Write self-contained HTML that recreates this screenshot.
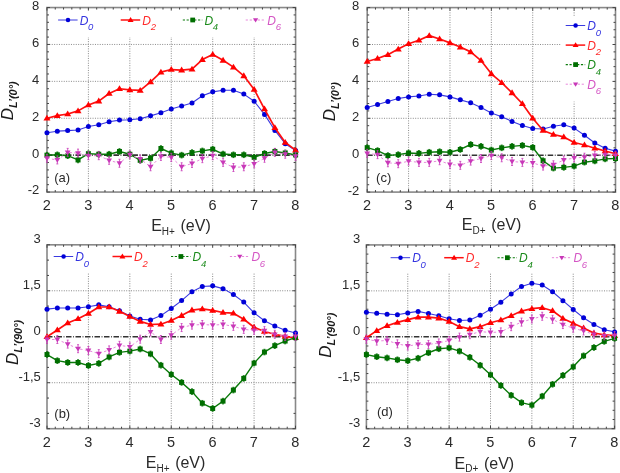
<!DOCTYPE html>
<html><head><meta charset="utf-8"><style>
html,body{margin:0;padding:0;background:#fff;}
body{width:620px;height:473px;overflow:hidden;}
svg{display:block;filter:blur(0.3px);}
text{font-family:"Liberation Sans", sans-serif;}
.tl{font-size:13px;fill:#2a2a2a;}
.tx{font-size:14.5px;fill:#2a2a2a;}
.lg{font-size:12px;font-style:italic;}
.ls{font-size:9.5px;}
.pl{font-size:13px;fill:#2a2a2a;}
.al{font-size:16px;fill:#2a2a2a;}
.as{font-size:10px;}
.yl{font-size:17px;font-style:italic;fill:#1a1a1a;}
.ys{font-size:11px;font-weight:bold;}
</style></head><body>
<svg width="620" height="473" viewBox="0 0 620 473">
<rect width="620" height="473" fill="#fff"/>
<line x1="88.4" y1="7.55" x2="88.4" y2="192.05" stroke="#8a8a8a" stroke-width="1" stroke-dasharray="1 1.4"/>
<line x1="129.84" y1="7.55" x2="129.84" y2="192.05" stroke="#8a8a8a" stroke-width="1" stroke-dasharray="1 1.4"/>
<line x1="171.28" y1="7.55" x2="171.28" y2="192.05" stroke="#8a8a8a" stroke-width="1" stroke-dasharray="1 1.4"/>
<line x1="212.72" y1="7.55" x2="212.72" y2="192.05" stroke="#8a8a8a" stroke-width="1" stroke-dasharray="1 1.4"/>
<line x1="254.16" y1="7.55" x2="254.16" y2="192.05" stroke="#8a8a8a" stroke-width="1" stroke-dasharray="1 1.4"/>
<line x1="46.96" y1="118.25" x2="295.6" y2="118.25" stroke="#8a8a8a" stroke-width="1" stroke-dasharray="1 1.4"/>
<line x1="46.96" y1="81.35" x2="295.6" y2="81.35" stroke="#8a8a8a" stroke-width="1" stroke-dasharray="1 1.4"/>
<line x1="46.96" y1="44.45" x2="295.6" y2="44.45" stroke="#8a8a8a" stroke-width="1" stroke-dasharray="1 1.4"/>
<rect x="48" y="9.5" width="246.5" height="27.5" fill="#fff"/>
<line x1="46.96" y1="155.15" x2="295.6" y2="155.15" stroke="#333" stroke-width="1.6" stroke-dasharray="5.5 1.6 0.8 1.6"/>
<rect x="46.96" y="7.55" width="248.64" height="184.5" fill="none" stroke="#888" stroke-width="1.6"/>
<path d="M46.96 192.05v-3 M46.96 7.55v3 M55.25 192.05v-2 M55.25 7.55v2 M63.54 192.05v-2 M63.54 7.55v2 M71.82 192.05v-2 M71.82 7.55v2 M80.11 192.05v-2 M80.11 7.55v2 M88.4 192.05v-3 M88.4 7.55v3 M96.69 192.05v-2 M96.69 7.55v2 M104.98 192.05v-2 M104.98 7.55v2 M113.26 192.05v-2 M113.26 7.55v2 M121.55 192.05v-2 M121.55 7.55v2 M129.84 192.05v-3 M129.84 7.55v3 M138.13 192.05v-2 M138.13 7.55v2 M146.42 192.05v-2 M146.42 7.55v2 M154.7 192.05v-2 M154.7 7.55v2 M162.99 192.05v-2 M162.99 7.55v2 M171.28 192.05v-3 M171.28 7.55v3 M179.57 192.05v-2 M179.57 7.55v2 M187.86 192.05v-2 M187.86 7.55v2 M196.14 192.05v-2 M196.14 7.55v2 M204.43 192.05v-2 M204.43 7.55v2 M212.72 192.05v-3 M212.72 7.55v3 M221.01 192.05v-2 M221.01 7.55v2 M229.3 192.05v-2 M229.3 7.55v2 M237.58 192.05v-2 M237.58 7.55v2 M245.87 192.05v-2 M245.87 7.55v2 M254.16 192.05v-3 M254.16 7.55v3 M262.45 192.05v-2 M262.45 7.55v2 M270.74 192.05v-2 M270.74 7.55v2 M279.02 192.05v-2 M279.02 7.55v2 M287.31 192.05v-2 M287.31 7.55v2 M295.6 192.05v-3 M295.6 7.55v3 M46.96 192.05h3 M295.6 192.05h-3 M46.96 184.67h2 M295.6 184.67h-2 M46.96 177.29h2 M295.6 177.29h-2 M46.96 169.91h2 M295.6 169.91h-2 M46.96 162.53h2 M295.6 162.53h-2 M46.96 155.15h3 M295.6 155.15h-3 M46.96 147.77h2 M295.6 147.77h-2 M46.96 140.39h2 M295.6 140.39h-2 M46.96 133.01h2 M295.6 133.01h-2 M46.96 125.63h2 M295.6 125.63h-2 M46.96 118.25h3 M295.6 118.25h-3 M46.96 110.87h2 M295.6 110.87h-2 M46.96 103.49h2 M295.6 103.49h-2 M46.96 96.11h2 M295.6 96.11h-2 M46.96 88.73h2 M295.6 88.73h-2 M46.96 81.35h3 M295.6 81.35h-3 M46.96 73.97h2 M295.6 73.97h-2 M46.96 66.59h2 M295.6 66.59h-2 M46.96 59.21h2 M295.6 59.21h-2 M46.96 51.83h2 M295.6 51.83h-2 M46.96 44.45h3 M295.6 44.45h-3 M46.96 37.07h2 M295.6 37.07h-2 M46.96 29.69h2 M295.6 29.69h-2 M46.96 22.31h2 M295.6 22.31h-2 M46.96 14.93h2 M295.6 14.93h-2 M46.96 7.55h3 M295.6 7.55h-3" stroke="#444" stroke-width="1" fill="none"/>
<path d="M46.96 132.83 L57.32 131.17 L67.68 130.61 L78.04 130.06 L88.4 126.55 L98.76 124.71 L109.12 121.76 L119.48 120.09 L129.84 119.73 L140.2 118.8 L150.56 115.85 L160.92 112.72 L171.28 109.03 L181.64 106.07 L192 102.94 L202.36 95.74 L212.72 91.87 L223.08 90.21 L233.44 90.21 L243.8 94.08 L254.16 101.28 L264.52 114.38 L274.88 130.43 L285.24 143.71 L295.6 150.54" fill="none" stroke="#3a3ae0" stroke-width="1.1" stroke-linejoin="round"/>
<circle cx="46.96" cy="132.83" r="2.5" fill="#0000d8"/>
<circle cx="57.32" cy="131.17" r="2.5" fill="#0000d8"/>
<circle cx="67.68" cy="130.61" r="2.5" fill="#0000d8"/>
<circle cx="78.04" cy="130.06" r="2.5" fill="#0000d8"/>
<circle cx="88.4" cy="126.55" r="2.5" fill="#0000d8"/>
<circle cx="98.76" cy="124.71" r="2.5" fill="#0000d8"/>
<circle cx="109.12" cy="121.76" r="2.5" fill="#0000d8"/>
<circle cx="119.48" cy="120.09" r="2.5" fill="#0000d8"/>
<circle cx="129.84" cy="119.73" r="2.5" fill="#0000d8"/>
<circle cx="140.2" cy="118.8" r="2.5" fill="#0000d8"/>
<circle cx="150.56" cy="115.85" r="2.5" fill="#0000d8"/>
<circle cx="160.92" cy="112.72" r="2.5" fill="#0000d8"/>
<circle cx="171.28" cy="109.03" r="2.5" fill="#0000d8"/>
<circle cx="181.64" cy="106.07" r="2.5" fill="#0000d8"/>
<circle cx="192" cy="102.94" r="2.5" fill="#0000d8"/>
<circle cx="202.36" cy="95.74" r="2.5" fill="#0000d8"/>
<circle cx="212.72" cy="91.87" r="2.5" fill="#0000d8"/>
<circle cx="223.08" cy="90.21" r="2.5" fill="#0000d8"/>
<circle cx="233.44" cy="90.21" r="2.5" fill="#0000d8"/>
<circle cx="243.8" cy="94.08" r="2.5" fill="#0000d8"/>
<circle cx="254.16" cy="101.28" r="2.5" fill="#0000d8"/>
<circle cx="264.52" cy="114.38" r="2.5" fill="#0000d8"/>
<circle cx="274.88" cy="130.43" r="2.5" fill="#0000d8"/>
<circle cx="285.24" cy="143.71" r="2.5" fill="#0000d8"/>
<circle cx="295.6" cy="150.54" r="2.5" fill="#0000d8"/>
<path d="M46.96 118.25 L57.32 115.67 L67.68 114.01 L78.04 110.87 L88.4 104.97 L98.76 101.09 L109.12 93.53 L119.48 88.73 L129.84 89.84 L140.2 90.39 L150.56 81.9 L160.92 72.13 L171.28 69.54 L181.64 70.1 L192 69.17 L202.36 59.58 L212.72 54.41 L223.08 60.32 L233.44 67.14 L243.8 75.82 L254.16 89.47 L264.52 109.03 L274.88 127.66 L285.24 142.42 L295.6 150.17" fill="none" stroke="#ff1010" stroke-width="1.7" stroke-linejoin="round"/>
<path d="M46.96 114.77L50.46 120.57L43.46 120.57Z" fill="#ff0000"/>
<path d="M57.32 112.19L60.82 117.99L53.82 117.99Z" fill="#ff0000"/>
<path d="M67.68 110.53L71.18 116.33L64.18 116.33Z" fill="#ff0000"/>
<path d="M78.04 107.39L81.54 113.19L74.54 113.19Z" fill="#ff0000"/>
<path d="M88.4 101.49L91.9 107.29L84.9 107.29Z" fill="#ff0000"/>
<path d="M98.76 97.61L102.26 103.41L95.26 103.41Z" fill="#ff0000"/>
<path d="M109.12 90.05L112.62 95.85L105.62 95.85Z" fill="#ff0000"/>
<path d="M119.48 85.25L122.98 91.05L115.98 91.05Z" fill="#ff0000"/>
<path d="M129.84 86.36L133.34 92.16L126.34 92.16Z" fill="#ff0000"/>
<path d="M140.2 86.91L143.7 92.71L136.7 92.71Z" fill="#ff0000"/>
<path d="M150.56 78.42L154.06 84.22L147.06 84.22Z" fill="#ff0000"/>
<path d="M160.92 68.65L164.42 74.45L157.42 74.45Z" fill="#ff0000"/>
<path d="M171.28 66.06L174.78 71.86L167.78 71.86Z" fill="#ff0000"/>
<path d="M181.64 66.62L185.14 72.42L178.14 72.42Z" fill="#ff0000"/>
<path d="M192 65.69L195.5 71.49L188.5 71.49Z" fill="#ff0000"/>
<path d="M202.36 56.1L205.86 61.9L198.86 61.9Z" fill="#ff0000"/>
<path d="M212.72 50.93L216.22 56.73L209.22 56.73Z" fill="#ff0000"/>
<path d="M223.08 56.84L226.58 62.64L219.58 62.64Z" fill="#ff0000"/>
<path d="M233.44 63.66L236.94 69.46L229.94 69.46Z" fill="#ff0000"/>
<path d="M243.8 72.34L247.3 78.14L240.3 78.14Z" fill="#ff0000"/>
<path d="M254.16 85.99L257.66 91.79L250.66 91.79Z" fill="#ff0000"/>
<path d="M264.52 105.55L268.02 111.34L261.02 111.34Z" fill="#ff0000"/>
<path d="M274.88 124.18L278.38 129.98L271.38 129.98Z" fill="#ff0000"/>
<path d="M285.24 138.94L288.74 144.74L281.74 144.74Z" fill="#ff0000"/>
<path d="M295.6 146.69L299.1 152.49L292.1 152.49Z" fill="#ff0000"/>
<path d="M46.96 155.15 L57.32 154.78 L67.68 155.7 L78.04 159.95 L88.4 153.67 L98.76 154.23 L109.12 154.23 L119.48 151.46 L129.84 154.23 L140.2 160.32 L150.56 158.29 L160.92 148.51 L171.28 153.12 L181.64 155.15 L192 152.57 L202.36 150.91 L212.72 149.25 L223.08 154.04 L233.44 154.78 L243.8 154.78 L254.16 157.36 L264.52 153.49 L274.88 151.46 L285.24 152.94 L295.6 154.97" fill="none" stroke="#0a7a0a" stroke-width="1.4" stroke-linejoin="round"/>
<path d="M46.96 152.35V157.95M45.96 152.35h2M45.96 157.95h2" stroke="#006e00" stroke-width="0.8" fill="none"/>
<rect x="44.46" y="152.65" width="5" height="5" fill="#006e00"/>
<path d="M57.32 151.98V157.58M56.32 151.98h2M56.32 157.58h2" stroke="#006e00" stroke-width="0.8" fill="none"/>
<rect x="54.82" y="152.28" width="5" height="5" fill="#006e00"/>
<path d="M67.68 152.9V158.5M66.68 152.9h2M66.68 158.5h2" stroke="#006e00" stroke-width="0.8" fill="none"/>
<rect x="65.18" y="153.2" width="5" height="5" fill="#006e00"/>
<path d="M78.04 157.15V162.75M77.04 157.15h2M77.04 162.75h2" stroke="#006e00" stroke-width="0.8" fill="none"/>
<rect x="75.54" y="157.45" width="5" height="5" fill="#006e00"/>
<path d="M88.4 150.87V156.47M87.4 150.87h2M87.4 156.47h2" stroke="#006e00" stroke-width="0.8" fill="none"/>
<rect x="85.9" y="151.17" width="5" height="5" fill="#006e00"/>
<path d="M98.76 151.43V157.03M97.76 151.43h2M97.76 157.03h2" stroke="#006e00" stroke-width="0.8" fill="none"/>
<rect x="96.26" y="151.73" width="5" height="5" fill="#006e00"/>
<path d="M109.12 151.43V157.03M108.12 151.43h2M108.12 157.03h2" stroke="#006e00" stroke-width="0.8" fill="none"/>
<rect x="106.62" y="151.73" width="5" height="5" fill="#006e00"/>
<path d="M119.48 148.66V154.26M118.48 148.66h2M118.48 154.26h2" stroke="#006e00" stroke-width="0.8" fill="none"/>
<rect x="116.98" y="148.96" width="5" height="5" fill="#006e00"/>
<path d="M129.84 151.43V157.03M128.84 151.43h2M128.84 157.03h2" stroke="#006e00" stroke-width="0.8" fill="none"/>
<rect x="127.34" y="151.73" width="5" height="5" fill="#006e00"/>
<path d="M140.2 157.52V163.12M139.2 157.52h2M139.2 163.12h2" stroke="#006e00" stroke-width="0.8" fill="none"/>
<rect x="137.7" y="157.82" width="5" height="5" fill="#006e00"/>
<path d="M150.56 155.49V161.09M149.56 155.49h2M149.56 161.09h2" stroke="#006e00" stroke-width="0.8" fill="none"/>
<rect x="148.06" y="155.79" width="5" height="5" fill="#006e00"/>
<path d="M160.92 145.71V151.31M159.92 145.71h2M159.92 151.31h2" stroke="#006e00" stroke-width="0.8" fill="none"/>
<rect x="158.42" y="146.01" width="5" height="5" fill="#006e00"/>
<path d="M171.28 150.32V155.92M170.28 150.32h2M170.28 155.92h2" stroke="#006e00" stroke-width="0.8" fill="none"/>
<rect x="168.78" y="150.62" width="5" height="5" fill="#006e00"/>
<path d="M181.64 152.35V157.95M180.64 152.35h2M180.64 157.95h2" stroke="#006e00" stroke-width="0.8" fill="none"/>
<rect x="179.14" y="152.65" width="5" height="5" fill="#006e00"/>
<path d="M192 149.77V155.37M191 149.77h2M191 155.37h2" stroke="#006e00" stroke-width="0.8" fill="none"/>
<rect x="189.5" y="150.07" width="5" height="5" fill="#006e00"/>
<path d="M202.36 148.11V153.71M201.36 148.11h2M201.36 153.71h2" stroke="#006e00" stroke-width="0.8" fill="none"/>
<rect x="199.86" y="148.41" width="5" height="5" fill="#006e00"/>
<path d="M212.72 146.45V152.05M211.72 146.45h2M211.72 152.05h2" stroke="#006e00" stroke-width="0.8" fill="none"/>
<rect x="210.22" y="146.75" width="5" height="5" fill="#006e00"/>
<path d="M223.08 151.24V156.84M222.08 151.24h2M222.08 156.84h2" stroke="#006e00" stroke-width="0.8" fill="none"/>
<rect x="220.58" y="151.54" width="5" height="5" fill="#006e00"/>
<path d="M233.44 151.98V157.58M232.44 151.98h2M232.44 157.58h2" stroke="#006e00" stroke-width="0.8" fill="none"/>
<rect x="230.94" y="152.28" width="5" height="5" fill="#006e00"/>
<path d="M243.8 151.98V157.58M242.8 151.98h2M242.8 157.58h2" stroke="#006e00" stroke-width="0.8" fill="none"/>
<rect x="241.3" y="152.28" width="5" height="5" fill="#006e00"/>
<path d="M254.16 154.56V160.16M253.16 154.56h2M253.16 160.16h2" stroke="#006e00" stroke-width="0.8" fill="none"/>
<rect x="251.66" y="154.86" width="5" height="5" fill="#006e00"/>
<path d="M264.52 150.69V156.29M263.52 150.69h2M263.52 156.29h2" stroke="#006e00" stroke-width="0.8" fill="none"/>
<rect x="262.02" y="150.99" width="5" height="5" fill="#006e00"/>
<path d="M274.88 148.66V154.26M273.88 148.66h2M273.88 154.26h2" stroke="#006e00" stroke-width="0.8" fill="none"/>
<rect x="272.38" y="148.96" width="5" height="5" fill="#006e00"/>
<path d="M285.24 150.14V155.74M284.24 150.14h2M284.24 155.74h2" stroke="#006e00" stroke-width="0.8" fill="none"/>
<rect x="282.74" y="150.44" width="5" height="5" fill="#006e00"/>
<path d="M295.6 152.17V157.77M294.6 152.17h2M294.6 157.77h2" stroke="#006e00" stroke-width="0.8" fill="none"/>
<rect x="293.1" y="152.47" width="5" height="5" fill="#006e00"/>
<path d="M46.96 158.29 L57.32 159.95 L67.68 152.38 L78.04 153.12 L88.4 155.7 L98.76 155.7 L109.12 160.32 L119.48 163.27 L129.84 154.78 L140.2 159.02 L150.56 166.77 L160.92 156.44 L171.28 157.36 L181.64 166.77 L192 163.45 L202.36 158.66 L212.72 155.7 L223.08 162.35 L233.44 167.51 L243.8 166.77 L254.16 163.82 L264.52 158.29 L274.88 152.38 L285.24 154.23 L295.6 156.26" fill="none" stroke="#e888dc" stroke-width="1.0" stroke-linejoin="round" stroke-dasharray="2.5 2.5"/>
<path d="M46.96 154.29V162.29M45.96 154.29h2M45.96 162.29h2" stroke="#c838b8" stroke-width="0.8" fill="none"/>
<path d="M44.06 156.37L49.86 156.37L46.96 161.17Z" fill="#c838b8"/>
<path d="M57.32 155.95V163.95M56.32 155.95h2M56.32 163.95h2" stroke="#c838b8" stroke-width="0.8" fill="none"/>
<path d="M54.42 158.03L60.22 158.03L57.32 162.83Z" fill="#c838b8"/>
<path d="M67.68 148.38V156.38M66.68 148.38h2M66.68 156.38h2" stroke="#c838b8" stroke-width="0.8" fill="none"/>
<path d="M64.78 150.46L70.58 150.46L67.68 155.26Z" fill="#c838b8"/>
<path d="M78.04 149.12V157.12M77.04 149.12h2M77.04 157.12h2" stroke="#c838b8" stroke-width="0.8" fill="none"/>
<path d="M75.14 151.2L80.94 151.2L78.04 156Z" fill="#c838b8"/>
<path d="M88.4 151.7V159.7M87.4 151.7h2M87.4 159.7h2" stroke="#c838b8" stroke-width="0.8" fill="none"/>
<path d="M85.5 153.78L91.3 153.78L88.4 158.58Z" fill="#c838b8"/>
<path d="M98.76 151.7V159.7M97.76 151.7h2M97.76 159.7h2" stroke="#c838b8" stroke-width="0.8" fill="none"/>
<path d="M95.86 153.78L101.66 153.78L98.76 158.58Z" fill="#c838b8"/>
<path d="M109.12 156.32V164.32M108.12 156.32h2M108.12 164.32h2" stroke="#c838b8" stroke-width="0.8" fill="none"/>
<path d="M106.22 158.4L112.02 158.4L109.12 163.2Z" fill="#c838b8"/>
<path d="M119.48 159.27V167.27M118.48 159.27h2M118.48 167.27h2" stroke="#c838b8" stroke-width="0.8" fill="none"/>
<path d="M116.58 161.35L122.38 161.35L119.48 166.15Z" fill="#c838b8"/>
<path d="M129.84 150.78V158.78M128.84 150.78h2M128.84 158.78h2" stroke="#c838b8" stroke-width="0.8" fill="none"/>
<path d="M126.94 152.86L132.74 152.86L129.84 157.66Z" fill="#c838b8"/>
<path d="M140.2 155.02V163.02M139.2 155.02h2M139.2 163.02h2" stroke="#c838b8" stroke-width="0.8" fill="none"/>
<path d="M137.3 157.1L143.1 157.1L140.2 161.9Z" fill="#c838b8"/>
<path d="M150.56 162.77V170.77M149.56 162.77h2M149.56 170.77h2" stroke="#c838b8" stroke-width="0.8" fill="none"/>
<path d="M147.66 164.85L153.46 164.85L150.56 169.65Z" fill="#c838b8"/>
<path d="M160.92 152.44V160.44M159.92 152.44h2M159.92 160.44h2" stroke="#c838b8" stroke-width="0.8" fill="none"/>
<path d="M158.02 154.52L163.82 154.52L160.92 159.32Z" fill="#c838b8"/>
<path d="M171.28 153.36V161.36M170.28 153.36h2M170.28 161.36h2" stroke="#c838b8" stroke-width="0.8" fill="none"/>
<path d="M168.38 155.44L174.18 155.44L171.28 160.24Z" fill="#c838b8"/>
<path d="M181.64 162.77V170.77M180.64 162.77h2M180.64 170.77h2" stroke="#c838b8" stroke-width="0.8" fill="none"/>
<path d="M178.74 164.85L184.54 164.85L181.64 169.65Z" fill="#c838b8"/>
<path d="M192 159.45V167.45M191 159.45h2M191 167.45h2" stroke="#c838b8" stroke-width="0.8" fill="none"/>
<path d="M189.1 161.53L194.9 161.53L192 166.33Z" fill="#c838b8"/>
<path d="M202.36 154.66V162.66M201.36 154.66h2M201.36 162.66h2" stroke="#c838b8" stroke-width="0.8" fill="none"/>
<path d="M199.46 156.74L205.26 156.74L202.36 161.54Z" fill="#c838b8"/>
<path d="M212.72 151.7V159.7M211.72 151.7h2M211.72 159.7h2" stroke="#c838b8" stroke-width="0.8" fill="none"/>
<path d="M209.82 153.78L215.62 153.78L212.72 158.58Z" fill="#c838b8"/>
<path d="M223.08 158.35V166.35M222.08 158.35h2M222.08 166.35h2" stroke="#c838b8" stroke-width="0.8" fill="none"/>
<path d="M220.18 160.43L225.98 160.43L223.08 165.23Z" fill="#c838b8"/>
<path d="M233.44 163.51V171.51M232.44 163.51h2M232.44 171.51h2" stroke="#c838b8" stroke-width="0.8" fill="none"/>
<path d="M230.54 165.59L236.34 165.59L233.44 170.39Z" fill="#c838b8"/>
<path d="M243.8 162.77V170.77M242.8 162.77h2M242.8 170.77h2" stroke="#c838b8" stroke-width="0.8" fill="none"/>
<path d="M240.9 164.85L246.7 164.85L243.8 169.65Z" fill="#c838b8"/>
<path d="M254.16 159.82V167.82M253.16 159.82h2M253.16 167.82h2" stroke="#c838b8" stroke-width="0.8" fill="none"/>
<path d="M251.26 161.9L257.06 161.9L254.16 166.7Z" fill="#c838b8"/>
<path d="M264.52 154.29V162.29M263.52 154.29h2M263.52 162.29h2" stroke="#c838b8" stroke-width="0.8" fill="none"/>
<path d="M261.62 156.37L267.42 156.37L264.52 161.17Z" fill="#c838b8"/>
<path d="M274.88 148.38V156.38M273.88 148.38h2M273.88 156.38h2" stroke="#c838b8" stroke-width="0.8" fill="none"/>
<path d="M271.98 150.46L277.78 150.46L274.88 155.26Z" fill="#c838b8"/>
<path d="M285.24 150.23V158.23M284.24 150.23h2M284.24 158.23h2" stroke="#c838b8" stroke-width="0.8" fill="none"/>
<path d="M282.34 152.31L288.14 152.31L285.24 157.11Z" fill="#c838b8"/>
<path d="M295.6 152.26V160.26M294.6 152.26h2M294.6 160.26h2" stroke="#c838b8" stroke-width="0.8" fill="none"/>
<path d="M292.7 154.34L298.5 154.34L295.6 159.14Z" fill="#c838b8"/>
<text x="46.76" y="210.3" text-anchor="middle" class="tx">2</text>
<text x="88.2" y="210.3" text-anchor="middle" class="tx">3</text>
<text x="129.64" y="210.3" text-anchor="middle" class="tx">4</text>
<text x="171.08" y="210.3" text-anchor="middle" class="tx">5</text>
<text x="212.52" y="210.3" text-anchor="middle" class="tx">6</text>
<text x="253.96" y="210.3" text-anchor="middle" class="tx">7</text>
<text x="295.4" y="210.3" text-anchor="middle" class="tx">8</text>
<text x="39.3" y="194.45" text-anchor="end" class="tl">-2</text>
<text x="39.3" y="157.55" text-anchor="end" class="tl">0</text>
<text x="39.3" y="120.65" text-anchor="end" class="tl">2</text>
<text x="39.3" y="83.75" text-anchor="end" class="tl">4</text>
<text x="39.3" y="46.85" text-anchor="end" class="tl">6</text>
<text x="39.3" y="9.95" text-anchor="end" class="tl">8</text>
<line x1="58.1" y1="20" x2="77.6" y2="20" stroke="#3a3ae0" stroke-width="1.0"/>
<circle cx="68" cy="20" r="2.25" fill="#0000d8"/>
<text x="79.7" y="24.7" class="lg" fill="#3434e0">D<tspan class="ls" dy="5.4" dx="-0.3">0</tspan></text>
<line x1="120.7" y1="20" x2="140.2" y2="20" stroke="#ff1010" stroke-width="1.5"/>
<path d="M130.6 17.04L133.57 21.97L127.62 21.97Z" fill="#ff0000"/>
<text x="142.3" y="24.7" class="lg" fill="#ff2a2a">D<tspan class="ls" dy="5.4" dx="-0.3">2</tspan></text>
<line x1="182.8" y1="20" x2="202.3" y2="20" stroke="#0a7a0a" stroke-width="1.1" stroke-dasharray="2.2 1.6"/>
<rect x="190.33" y="17.62" width="4.75" height="4.75" fill="#006e00"/>
<text x="204.4" y="24.7" class="lg" fill="#1a8a1a">D<tspan class="ls" dy="5.4" dx="-0.3">4</tspan></text>
<line x1="245.7" y1="20" x2="265.2" y2="20" stroke="#e888dc" stroke-width="1.0" stroke-dasharray="2.2 1.8"/>
<path d="M252.99 18.27L258.21 18.27L255.6 22.59Z" fill="#c838b8"/>
<text x="267.3" y="24.7" class="lg" fill="#d455c4">D<tspan class="ls" dy="5.4" dx="-0.3">6</tspan></text>
<text x="54.2" y="182.2" class="pl">(a)</text>
<text x="151.2" y="231.3" class="al">E<tspan class="as" dy="3.6">H+</tspan><tspan dy="-3.6" dx="5.6">(eV)</tspan></text>
<text transform="translate(12.8 120.3) rotate(-90)" class="yl">D<tspan class="ys" dy="4.0">L’(0°)</tspan></text>
<line x1="88.42" y1="244.8" x2="88.42" y2="428.7" stroke="#8a8a8a" stroke-width="1" stroke-dasharray="1 1.4"/>
<line x1="129.83" y1="244.8" x2="129.83" y2="428.7" stroke="#8a8a8a" stroke-width="1" stroke-dasharray="1 1.4"/>
<line x1="171.25" y1="244.8" x2="171.25" y2="428.7" stroke="#8a8a8a" stroke-width="1" stroke-dasharray="1 1.4"/>
<line x1="212.67" y1="244.8" x2="212.67" y2="428.7" stroke="#8a8a8a" stroke-width="1" stroke-dasharray="1 1.4"/>
<line x1="254.08" y1="244.8" x2="254.08" y2="428.7" stroke="#8a8a8a" stroke-width="1" stroke-dasharray="1 1.4"/>
<line x1="47" y1="290.77" x2="295.5" y2="290.77" stroke="#8a8a8a" stroke-width="1" stroke-dasharray="1 1.4"/>
<line x1="47" y1="382.73" x2="295.5" y2="382.73" stroke="#8a8a8a" stroke-width="1" stroke-dasharray="1 1.4"/>
<rect x="48" y="247" width="246.5" height="26" fill="#fff"/>
<line x1="47" y1="336.75" x2="295.5" y2="336.75" stroke="#333" stroke-width="1.6" stroke-dasharray="5.5 1.6 0.8 1.6"/>
<rect x="47" y="244.8" width="248.5" height="183.9" fill="none" stroke="#888" stroke-width="1.6"/>
<path d="M47 428.7v-3 M47 244.8v3 M55.28 428.7v-2 M55.28 244.8v2 M63.57 428.7v-2 M63.57 244.8v2 M71.85 428.7v-2 M71.85 244.8v2 M80.13 428.7v-2 M80.13 244.8v2 M88.42 428.7v-3 M88.42 244.8v3 M96.7 428.7v-2 M96.7 244.8v2 M104.98 428.7v-2 M104.98 244.8v2 M113.27 428.7v-2 M113.27 244.8v2 M121.55 428.7v-2 M121.55 244.8v2 M129.83 428.7v-3 M129.83 244.8v3 M138.12 428.7v-2 M138.12 244.8v2 M146.4 428.7v-2 M146.4 244.8v2 M154.68 428.7v-2 M154.68 244.8v2 M162.97 428.7v-2 M162.97 244.8v2 M171.25 428.7v-3 M171.25 244.8v3 M179.53 428.7v-2 M179.53 244.8v2 M187.82 428.7v-2 M187.82 244.8v2 M196.1 428.7v-2 M196.1 244.8v2 M204.38 428.7v-2 M204.38 244.8v2 M212.67 428.7v-3 M212.67 244.8v3 M220.95 428.7v-2 M220.95 244.8v2 M229.23 428.7v-2 M229.23 244.8v2 M237.52 428.7v-2 M237.52 244.8v2 M245.8 428.7v-2 M245.8 244.8v2 M254.08 428.7v-3 M254.08 244.8v3 M262.37 428.7v-2 M262.37 244.8v2 M270.65 428.7v-2 M270.65 244.8v2 M278.93 428.7v-2 M278.93 244.8v2 M287.22 428.7v-2 M287.22 244.8v2 M295.5 428.7v-3 M295.5 244.8v3 M47 428.7h3 M295.5 428.7h-3 M47 413.38h2 M295.5 413.38h-2 M47 398.05h2 M295.5 398.05h-2 M47 382.73h3 M295.5 382.73h-3 M47 367.4h2 M295.5 367.4h-2 M47 352.07h2 M295.5 352.07h-2 M47 336.75h3 M295.5 336.75h-3 M47 321.43h2 M295.5 321.43h-2 M47 306.1h2 M295.5 306.1h-2 M47 290.77h3 M295.5 290.77h-3 M47 275.45h2 M295.5 275.45h-2 M47 260.12h2 M295.5 260.12h-2 M47 244.8h3 M295.5 244.8h-3" stroke="#444" stroke-width="1" fill="none"/>
<path d="M47 309.17 L57.35 307.94 L67.71 307.94 L78.06 307.94 L88.42 306.71 L98.77 304.87 L109.12 306.71 L119.48 310.7 L129.83 315.91 L140.19 319.28 L150.54 319.89 L160.9 315.6 L171.25 308.55 L181.6 300.58 L191.96 291.69 L202.31 286.48 L212.67 285.87 L223.02 288.63 L233.38 294.45 L243.73 302.12 L254.08 312.84 L264.44 320.81 L274.79 326.02 L285.15 330.31 L295.5 333.07" fill="none" stroke="#3a3ae0" stroke-width="1.1" stroke-linejoin="round"/>
<circle cx="47" cy="309.17" r="2.5" fill="#0000d8"/>
<circle cx="57.35" cy="307.94" r="2.5" fill="#0000d8"/>
<circle cx="67.71" cy="307.94" r="2.5" fill="#0000d8"/>
<circle cx="78.06" cy="307.94" r="2.5" fill="#0000d8"/>
<circle cx="88.42" cy="306.71" r="2.5" fill="#0000d8"/>
<circle cx="98.77" cy="304.87" r="2.5" fill="#0000d8"/>
<circle cx="109.12" cy="306.71" r="2.5" fill="#0000d8"/>
<circle cx="119.48" cy="310.7" r="2.5" fill="#0000d8"/>
<circle cx="129.83" cy="315.91" r="2.5" fill="#0000d8"/>
<circle cx="140.19" cy="319.28" r="2.5" fill="#0000d8"/>
<circle cx="150.54" cy="319.89" r="2.5" fill="#0000d8"/>
<circle cx="160.9" cy="315.6" r="2.5" fill="#0000d8"/>
<circle cx="171.25" cy="308.55" r="2.5" fill="#0000d8"/>
<circle cx="181.6" cy="300.58" r="2.5" fill="#0000d8"/>
<circle cx="191.96" cy="291.69" r="2.5" fill="#0000d8"/>
<circle cx="202.31" cy="286.48" r="2.5" fill="#0000d8"/>
<circle cx="212.67" cy="285.87" r="2.5" fill="#0000d8"/>
<circle cx="223.02" cy="288.63" r="2.5" fill="#0000d8"/>
<circle cx="233.38" cy="294.45" r="2.5" fill="#0000d8"/>
<circle cx="243.73" cy="302.12" r="2.5" fill="#0000d8"/>
<circle cx="254.08" cy="312.84" r="2.5" fill="#0000d8"/>
<circle cx="264.44" cy="320.81" r="2.5" fill="#0000d8"/>
<circle cx="274.79" cy="326.02" r="2.5" fill="#0000d8"/>
<circle cx="285.15" cy="330.31" r="2.5" fill="#0000d8"/>
<circle cx="295.5" cy="333.07" r="2.5" fill="#0000d8"/>
<path d="M47 336.75 L57.35 330.01 L67.71 322.96 L78.06 318.67 L88.42 313.46 L98.77 307.02 L109.12 307.02 L119.48 311.31 L129.83 316.52 L140.19 321.43 L150.54 324.49 L160.9 324.18 L171.25 320.51 L181.6 315.6 L191.96 310.08 L202.31 308.86 L212.67 310.39 L223.02 312.54 L233.38 313.15 L243.73 319.28 L254.08 327.25 L264.44 331.54 L274.79 334.3 L285.15 336.44 L295.5 337.67" fill="none" stroke="#ff1010" stroke-width="1.7" stroke-linejoin="round"/>
<path d="M47 333.27L50.5 339.07L43.5 339.07Z" fill="#ff0000"/>
<path d="M57.35 326.53L60.85 332.33L53.85 332.33Z" fill="#ff0000"/>
<path d="M67.71 319.48L71.21 325.28L64.21 325.28Z" fill="#ff0000"/>
<path d="M78.06 315.19L81.56 320.99L74.56 320.99Z" fill="#ff0000"/>
<path d="M88.42 309.98L91.92 315.78L84.92 315.78Z" fill="#ff0000"/>
<path d="M98.77 303.54L102.27 309.34L95.27 309.34Z" fill="#ff0000"/>
<path d="M109.12 303.54L112.62 309.34L105.62 309.34Z" fill="#ff0000"/>
<path d="M119.48 307.83L122.98 313.63L115.98 313.63Z" fill="#ff0000"/>
<path d="M129.83 313.04L133.33 318.84L126.33 318.84Z" fill="#ff0000"/>
<path d="M140.19 317.94L143.69 323.75L136.69 323.75Z" fill="#ff0000"/>
<path d="M150.54 321.01L154.04 326.81L147.04 326.81Z" fill="#ff0000"/>
<path d="M160.9 320.7L164.4 326.5L157.4 326.5Z" fill="#ff0000"/>
<path d="M171.25 317.03L174.75 322.83L167.75 322.83Z" fill="#ff0000"/>
<path d="M181.6 312.12L185.1 317.92L178.1 317.92Z" fill="#ff0000"/>
<path d="M191.96 306.6L195.46 312.4L188.46 312.4Z" fill="#ff0000"/>
<path d="M202.31 305.38L205.81 311.18L198.81 311.18Z" fill="#ff0000"/>
<path d="M212.67 306.91L216.17 312.71L209.17 312.71Z" fill="#ff0000"/>
<path d="M223.02 309.06L226.52 314.86L219.52 314.86Z" fill="#ff0000"/>
<path d="M233.38 309.67L236.88 315.47L229.88 315.47Z" fill="#ff0000"/>
<path d="M243.73 315.8L247.23 321.6L240.23 321.6Z" fill="#ff0000"/>
<path d="M254.08 323.77L257.58 329.57L250.58 329.57Z" fill="#ff0000"/>
<path d="M264.44 328.06L267.94 333.86L260.94 333.86Z" fill="#ff0000"/>
<path d="M274.79 330.82L278.29 336.62L271.29 336.62Z" fill="#ff0000"/>
<path d="M285.15 332.96L288.65 338.76L281.65 338.76Z" fill="#ff0000"/>
<path d="M295.5 334.19L299 339.99L292 339.99Z" fill="#ff0000"/>
<path d="M47 354.53 L57.35 360.66 L67.71 362.5 L78.06 362.5 L88.42 365.56 L98.77 363.42 L109.12 356.98 L119.48 352.38 L129.83 351.16 L140.19 349.01 L150.54 353.91 L160.9 365.25 L171.25 374.45 L181.6 382.42 L191.96 391.61 L202.31 403.26 L212.67 408.47 L223.02 401.12 L233.38 390.08 L243.73 378.43 L254.08 363.11 L264.44 352.07 L274.79 345.64 L285.15 341.04 L295.5 337.67" fill="none" stroke="#0a7a0a" stroke-width="1.4" stroke-linejoin="round"/>
<path d="M47 351.73V357.33M46 351.73h2M46 357.33h2" stroke="#006e00" stroke-width="0.8" fill="none"/>
<rect x="44.5" y="352.03" width="5" height="5" fill="#006e00"/>
<path d="M57.35 357.86V363.46M56.35 357.86h2M56.35 363.46h2" stroke="#006e00" stroke-width="0.8" fill="none"/>
<rect x="54.85" y="358.16" width="5" height="5" fill="#006e00"/>
<path d="M67.71 359.7V365.3M66.71 359.7h2M66.71 365.3h2" stroke="#006e00" stroke-width="0.8" fill="none"/>
<rect x="65.21" y="360" width="5" height="5" fill="#006e00"/>
<path d="M78.06 359.7V365.3M77.06 359.7h2M77.06 365.3h2" stroke="#006e00" stroke-width="0.8" fill="none"/>
<rect x="75.56" y="360" width="5" height="5" fill="#006e00"/>
<path d="M88.42 362.76V368.36M87.42 362.76h2M87.42 368.36h2" stroke="#006e00" stroke-width="0.8" fill="none"/>
<rect x="85.92" y="363.06" width="5" height="5" fill="#006e00"/>
<path d="M98.77 360.62V366.22M97.77 360.62h2M97.77 366.22h2" stroke="#006e00" stroke-width="0.8" fill="none"/>
<rect x="96.27" y="360.92" width="5" height="5" fill="#006e00"/>
<path d="M109.12 354.18V359.78M108.12 354.18h2M108.12 359.78h2" stroke="#006e00" stroke-width="0.8" fill="none"/>
<rect x="106.62" y="354.48" width="5" height="5" fill="#006e00"/>
<path d="M119.48 349.58V355.18M118.48 349.58h2M118.48 355.18h2" stroke="#006e00" stroke-width="0.8" fill="none"/>
<rect x="116.98" y="349.88" width="5" height="5" fill="#006e00"/>
<path d="M129.83 348.36V353.96M128.83 348.36h2M128.83 353.96h2" stroke="#006e00" stroke-width="0.8" fill="none"/>
<rect x="127.33" y="348.66" width="5" height="5" fill="#006e00"/>
<path d="M140.19 346.21V351.81M139.19 346.21h2M139.19 351.81h2" stroke="#006e00" stroke-width="0.8" fill="none"/>
<rect x="137.69" y="346.51" width="5" height="5" fill="#006e00"/>
<path d="M150.54 351.11V356.71M149.54 351.11h2M149.54 356.71h2" stroke="#006e00" stroke-width="0.8" fill="none"/>
<rect x="148.04" y="351.41" width="5" height="5" fill="#006e00"/>
<path d="M160.9 362.45V368.05M159.9 362.45h2M159.9 368.05h2" stroke="#006e00" stroke-width="0.8" fill="none"/>
<rect x="158.4" y="362.75" width="5" height="5" fill="#006e00"/>
<path d="M171.25 371.65V377.25M170.25 371.65h2M170.25 377.25h2" stroke="#006e00" stroke-width="0.8" fill="none"/>
<rect x="168.75" y="371.95" width="5" height="5" fill="#006e00"/>
<path d="M181.6 379.62V385.22M180.6 379.62h2M180.6 385.22h2" stroke="#006e00" stroke-width="0.8" fill="none"/>
<rect x="179.1" y="379.92" width="5" height="5" fill="#006e00"/>
<path d="M191.96 388.81V394.41M190.96 388.81h2M190.96 394.41h2" stroke="#006e00" stroke-width="0.8" fill="none"/>
<rect x="189.46" y="389.11" width="5" height="5" fill="#006e00"/>
<path d="M202.31 400.46V406.06M201.31 400.46h2M201.31 406.06h2" stroke="#006e00" stroke-width="0.8" fill="none"/>
<rect x="199.81" y="400.76" width="5" height="5" fill="#006e00"/>
<path d="M212.67 405.67V411.27M211.67 405.67h2M211.67 411.27h2" stroke="#006e00" stroke-width="0.8" fill="none"/>
<rect x="210.17" y="405.97" width="5" height="5" fill="#006e00"/>
<path d="M223.02 398.31V403.92M222.02 398.31h2M222.02 403.92h2" stroke="#006e00" stroke-width="0.8" fill="none"/>
<rect x="220.52" y="398.62" width="5" height="5" fill="#006e00"/>
<path d="M233.38 387.28V392.88M232.38 387.28h2M232.38 392.88h2" stroke="#006e00" stroke-width="0.8" fill="none"/>
<rect x="230.88" y="387.58" width="5" height="5" fill="#006e00"/>
<path d="M243.73 375.63V381.23M242.73 375.63h2M242.73 381.23h2" stroke="#006e00" stroke-width="0.8" fill="none"/>
<rect x="241.23" y="375.93" width="5" height="5" fill="#006e00"/>
<path d="M254.08 360.31V365.91M253.08 360.31h2M253.08 365.91h2" stroke="#006e00" stroke-width="0.8" fill="none"/>
<rect x="251.58" y="360.61" width="5" height="5" fill="#006e00"/>
<path d="M264.44 349.27V354.88M263.44 349.27h2M263.44 354.88h2" stroke="#006e00" stroke-width="0.8" fill="none"/>
<rect x="261.94" y="349.57" width="5" height="5" fill="#006e00"/>
<path d="M274.79 342.84V348.44M273.79 342.84h2M273.79 348.44h2" stroke="#006e00" stroke-width="0.8" fill="none"/>
<rect x="272.29" y="343.14" width="5" height="5" fill="#006e00"/>
<path d="M285.15 338.24V343.84M284.15 338.24h2M284.15 343.84h2" stroke="#006e00" stroke-width="0.8" fill="none"/>
<rect x="282.65" y="338.54" width="5" height="5" fill="#006e00"/>
<path d="M295.5 334.87V340.47M294.5 334.87h2M294.5 340.47h2" stroke="#006e00" stroke-width="0.8" fill="none"/>
<rect x="293" y="335.17" width="5" height="5" fill="#006e00"/>
<path d="M47 339.51 L57.35 339.51 L67.71 344.11 L78.06 348.7 L88.42 350.54 L98.77 353.61 L109.12 349.93 L119.48 345.33 L129.83 346.86 L140.19 339.2 L150.54 331.85 L160.9 339.51 L171.25 335.22 L181.6 327.56 L191.96 325.1 L202.31 324.49 L212.67 325.1 L223.02 324.49 L233.38 326.33 L243.73 329.39 L254.08 330.31 L264.44 330.62 L274.79 334.3 L285.15 336.44 L295.5 336.44" fill="none" stroke="#e888dc" stroke-width="1.0" stroke-linejoin="round" stroke-dasharray="2.5 2.5"/>
<path d="M47 335.51V343.51M46 335.51h2M46 343.51h2" stroke="#c838b8" stroke-width="0.8" fill="none"/>
<path d="M44.1 337.59L49.9 337.59L47 342.39Z" fill="#c838b8"/>
<path d="M57.35 335.51V343.51M56.35 335.51h2M56.35 343.51h2" stroke="#c838b8" stroke-width="0.8" fill="none"/>
<path d="M54.45 337.59L60.25 337.59L57.35 342.39Z" fill="#c838b8"/>
<path d="M67.71 340.11V348.11M66.71 340.11h2M66.71 348.11h2" stroke="#c838b8" stroke-width="0.8" fill="none"/>
<path d="M64.81 342.19L70.61 342.19L67.71 346.99Z" fill="#c838b8"/>
<path d="M78.06 344.7V352.7M77.06 344.7h2M77.06 352.7h2" stroke="#c838b8" stroke-width="0.8" fill="none"/>
<path d="M75.16 346.78L80.96 346.78L78.06 351.58Z" fill="#c838b8"/>
<path d="M88.42 346.54V354.54M87.42 346.54h2M87.42 354.54h2" stroke="#c838b8" stroke-width="0.8" fill="none"/>
<path d="M85.52 348.62L91.32 348.62L88.42 353.42Z" fill="#c838b8"/>
<path d="M98.77 349.61V357.61M97.77 349.61h2M97.77 357.61h2" stroke="#c838b8" stroke-width="0.8" fill="none"/>
<path d="M95.87 351.69L101.67 351.69L98.77 356.49Z" fill="#c838b8"/>
<path d="M109.12 345.93V353.93M108.12 345.93h2M108.12 353.93h2" stroke="#c838b8" stroke-width="0.8" fill="none"/>
<path d="M106.22 348.01L112.03 348.01L109.12 352.81Z" fill="#c838b8"/>
<path d="M119.48 341.33V349.33M118.48 341.33h2M118.48 349.33h2" stroke="#c838b8" stroke-width="0.8" fill="none"/>
<path d="M116.58 343.41L122.38 343.41L119.48 348.21Z" fill="#c838b8"/>
<path d="M129.83 342.86V350.86M128.83 342.86h2M128.83 350.86h2" stroke="#c838b8" stroke-width="0.8" fill="none"/>
<path d="M126.93 344.94L132.73 344.94L129.83 349.74Z" fill="#c838b8"/>
<path d="M140.19 335.2V343.2M139.19 335.2h2M139.19 343.2h2" stroke="#c838b8" stroke-width="0.8" fill="none"/>
<path d="M137.29 337.28L143.09 337.28L140.19 342.08Z" fill="#c838b8"/>
<path d="M150.54 327.85V335.85M149.54 327.85h2M149.54 335.85h2" stroke="#c838b8" stroke-width="0.8" fill="none"/>
<path d="M147.64 329.93L153.44 329.93L150.54 334.73Z" fill="#c838b8"/>
<path d="M160.9 335.51V343.51M159.9 335.51h2M159.9 343.51h2" stroke="#c838b8" stroke-width="0.8" fill="none"/>
<path d="M158 337.59L163.8 337.59L160.9 342.39Z" fill="#c838b8"/>
<path d="M171.25 331.22V339.22M170.25 331.22h2M170.25 339.22h2" stroke="#c838b8" stroke-width="0.8" fill="none"/>
<path d="M168.35 333.3L174.15 333.3L171.25 338.1Z" fill="#c838b8"/>
<path d="M181.6 323.56V331.56M180.6 323.56h2M180.6 331.56h2" stroke="#c838b8" stroke-width="0.8" fill="none"/>
<path d="M178.7 325.63L184.5 325.63L181.6 330.44Z" fill="#c838b8"/>
<path d="M191.96 321.1V329.1M190.96 321.1h2M190.96 329.1h2" stroke="#c838b8" stroke-width="0.8" fill="none"/>
<path d="M189.06 323.18L194.86 323.18L191.96 327.98Z" fill="#c838b8"/>
<path d="M202.31 320.49V328.49M201.31 320.49h2M201.31 328.49h2" stroke="#c838b8" stroke-width="0.8" fill="none"/>
<path d="M199.41 322.57L205.21 322.57L202.31 327.37Z" fill="#c838b8"/>
<path d="M212.67 321.1V329.1M211.67 321.1h2M211.67 329.1h2" stroke="#c838b8" stroke-width="0.8" fill="none"/>
<path d="M209.77 323.18L215.57 323.18L212.67 327.98Z" fill="#c838b8"/>
<path d="M223.02 320.49V328.49M222.02 320.49h2M222.02 328.49h2" stroke="#c838b8" stroke-width="0.8" fill="none"/>
<path d="M220.12 322.57L225.92 322.57L223.02 327.37Z" fill="#c838b8"/>
<path d="M233.38 322.33V330.33M232.38 322.33h2M232.38 330.33h2" stroke="#c838b8" stroke-width="0.8" fill="none"/>
<path d="M230.47 324.41L236.28 324.41L233.38 329.21Z" fill="#c838b8"/>
<path d="M243.73 325.39V333.39M242.73 325.39h2M242.73 333.39h2" stroke="#c838b8" stroke-width="0.8" fill="none"/>
<path d="M240.83 327.47L246.63 327.47L243.73 332.27Z" fill="#c838b8"/>
<path d="M254.08 326.31V334.31M253.08 326.31h2M253.08 334.31h2" stroke="#c838b8" stroke-width="0.8" fill="none"/>
<path d="M251.18 328.39L256.98 328.39L254.08 333.19Z" fill="#c838b8"/>
<path d="M264.44 326.62V334.62M263.44 326.62h2M263.44 334.62h2" stroke="#c838b8" stroke-width="0.8" fill="none"/>
<path d="M261.54 328.7L267.34 328.7L264.44 333.5Z" fill="#c838b8"/>
<path d="M274.79 330.3V338.3M273.79 330.3h2M273.79 338.3h2" stroke="#c838b8" stroke-width="0.8" fill="none"/>
<path d="M271.89 332.38L277.69 332.38L274.79 337.18Z" fill="#c838b8"/>
<path d="M285.15 332.44V340.44M284.15 332.44h2M284.15 340.44h2" stroke="#c838b8" stroke-width="0.8" fill="none"/>
<path d="M282.25 334.52L288.05 334.52L285.15 339.32Z" fill="#c838b8"/>
<path d="M295.5 332.44V340.44M294.5 332.44h2M294.5 340.44h2" stroke="#c838b8" stroke-width="0.8" fill="none"/>
<path d="M292.6 334.52L298.4 334.52L295.5 339.32Z" fill="#c838b8"/>
<text x="46.8" y="446.9" text-anchor="middle" class="tx">2</text>
<text x="88.22" y="446.9" text-anchor="middle" class="tx">3</text>
<text x="129.63" y="446.9" text-anchor="middle" class="tx">4</text>
<text x="171.05" y="446.9" text-anchor="middle" class="tx">5</text>
<text x="212.47" y="446.9" text-anchor="middle" class="tx">6</text>
<text x="253.88" y="446.9" text-anchor="middle" class="tx">7</text>
<text x="295.3" y="446.9" text-anchor="middle" class="tx">8</text>
<text x="40.8" y="427.1" text-anchor="end" class="tl">-3</text>
<text x="40.8" y="381.12" text-anchor="end" class="tl">-1,5</text>
<text x="40.8" y="335.15" text-anchor="end" class="tl">0</text>
<text x="40.8" y="289.17" text-anchor="end" class="tl">1,5</text>
<text x="40.8" y="243.2" text-anchor="end" class="tl">3</text>
<line x1="53.7" y1="256.5" x2="73.2" y2="256.5" stroke="#3a3ae0" stroke-width="1.0"/>
<circle cx="63.6" cy="256.5" r="2.25" fill="#0000d8"/>
<text x="75.3" y="261.2" class="lg" fill="#3434e0">D<tspan class="ls" dy="5.4" dx="-0.3">0</tspan></text>
<line x1="112.5" y1="256.5" x2="132" y2="256.5" stroke="#ff1010" stroke-width="1.5"/>
<path d="M122.4 253.54L125.38 258.47L119.43 258.47Z" fill="#ff0000"/>
<text x="134.1" y="261.2" class="lg" fill="#ff2a2a">D<tspan class="ls" dy="5.4" dx="-0.3">2</tspan></text>
<line x1="171" y1="256.5" x2="190.5" y2="256.5" stroke="#0a7a0a" stroke-width="1.1" stroke-dasharray="2.2 1.6"/>
<rect x="178.53" y="254.12" width="4.75" height="4.75" fill="#006e00"/>
<text x="192.6" y="261.2" class="lg" fill="#1a8a1a">D<tspan class="ls" dy="5.4" dx="-0.3">4</tspan></text>
<line x1="229.9" y1="256.5" x2="249.4" y2="256.5" stroke="#e888dc" stroke-width="1.0" stroke-dasharray="2.2 1.8"/>
<path d="M237.19 254.77L242.41 254.77L239.8 259.09Z" fill="#c838b8"/>
<text x="251.5" y="261.2" class="lg" fill="#d455c4">D<tspan class="ls" dy="5.4" dx="-0.3">6</tspan></text>
<text x="54.3" y="417.6" class="pl">(b)</text>
<text x="145.8" y="468.4" class="al">E<tspan class="as" dy="3.6">H+</tspan><tspan dy="-3.6" dx="5.6">(eV)</tspan></text>
<text transform="translate(18 365) rotate(-90)" class="yl">D<tspan class="ys" dy="4.0">L’(90°)</tspan></text>
<line x1="408.58" y1="7.6" x2="408.58" y2="192.1" stroke="#8a8a8a" stroke-width="1" stroke-dasharray="1 1.4"/>
<line x1="449.97" y1="7.6" x2="449.97" y2="192.1" stroke="#8a8a8a" stroke-width="1" stroke-dasharray="1 1.4"/>
<line x1="491.35" y1="7.6" x2="491.35" y2="192.1" stroke="#8a8a8a" stroke-width="1" stroke-dasharray="1 1.4"/>
<line x1="532.73" y1="7.6" x2="532.73" y2="192.1" stroke="#8a8a8a" stroke-width="1" stroke-dasharray="1 1.4"/>
<line x1="574.12" y1="7.6" x2="574.12" y2="192.1" stroke="#8a8a8a" stroke-width="1" stroke-dasharray="1 1.4"/>
<line x1="367.2" y1="118.3" x2="615.5" y2="118.3" stroke="#8a8a8a" stroke-width="1" stroke-dasharray="1 1.4"/>
<line x1="367.2" y1="81.4" x2="615.5" y2="81.4" stroke="#8a8a8a" stroke-width="1" stroke-dasharray="1 1.4"/>
<line x1="367.2" y1="44.5" x2="615.5" y2="44.5" stroke="#8a8a8a" stroke-width="1" stroke-dasharray="1 1.4"/>
<rect x="561" y="17" width="53.5" height="84.5" fill="#fff"/>
<line x1="367.2" y1="155.2" x2="615.5" y2="155.2" stroke="#333" stroke-width="1.6" stroke-dasharray="5.5 1.6 0.8 1.6"/>
<rect x="367.2" y="7.6" width="248.3" height="184.5" fill="none" stroke="#888" stroke-width="1.6"/>
<path d="M367.2 192.1v-3 M367.2 7.6v3 M375.48 192.1v-2 M375.48 7.6v2 M383.75 192.1v-2 M383.75 7.6v2 M392.03 192.1v-2 M392.03 7.6v2 M400.31 192.1v-2 M400.31 7.6v2 M408.58 192.1v-3 M408.58 7.6v3 M416.86 192.1v-2 M416.86 7.6v2 M425.14 192.1v-2 M425.14 7.6v2 M433.41 192.1v-2 M433.41 7.6v2 M441.69 192.1v-2 M441.69 7.6v2 M449.97 192.1v-3 M449.97 7.6v3 M458.24 192.1v-2 M458.24 7.6v2 M466.52 192.1v-2 M466.52 7.6v2 M474.8 192.1v-2 M474.8 7.6v2 M483.07 192.1v-2 M483.07 7.6v2 M491.35 192.1v-3 M491.35 7.6v3 M499.63 192.1v-2 M499.63 7.6v2 M507.9 192.1v-2 M507.9 7.6v2 M516.18 192.1v-2 M516.18 7.6v2 M524.46 192.1v-2 M524.46 7.6v2 M532.73 192.1v-3 M532.73 7.6v3 M541.01 192.1v-2 M541.01 7.6v2 M549.29 192.1v-2 M549.29 7.6v2 M557.56 192.1v-2 M557.56 7.6v2 M565.84 192.1v-2 M565.84 7.6v2 M574.12 192.1v-3 M574.12 7.6v3 M582.39 192.1v-2 M582.39 7.6v2 M590.67 192.1v-2 M590.67 7.6v2 M598.95 192.1v-2 M598.95 7.6v2 M607.22 192.1v-2 M607.22 7.6v2 M615.5 192.1v-3 M615.5 7.6v3 M367.2 192.1h3 M615.5 192.1h-3 M367.2 184.72h2 M615.5 184.72h-2 M367.2 177.34h2 M615.5 177.34h-2 M367.2 169.96h2 M615.5 169.96h-2 M367.2 162.58h2 M615.5 162.58h-2 M367.2 155.2h3 M615.5 155.2h-3 M367.2 147.82h2 M615.5 147.82h-2 M367.2 140.44h2 M615.5 140.44h-2 M367.2 133.06h2 M615.5 133.06h-2 M367.2 125.68h2 M615.5 125.68h-2 M367.2 118.3h3 M615.5 118.3h-3 M367.2 110.92h2 M615.5 110.92h-2 M367.2 103.54h2 M615.5 103.54h-2 M367.2 96.16h2 M615.5 96.16h-2 M367.2 88.78h2 M615.5 88.78h-2 M367.2 81.4h3 M615.5 81.4h-3 M367.2 74.02h2 M615.5 74.02h-2 M367.2 66.64h2 M615.5 66.64h-2 M367.2 59.26h2 M615.5 59.26h-2 M367.2 51.88h2 M615.5 51.88h-2 M367.2 44.5h3 M615.5 44.5h-3 M367.2 37.12h2 M615.5 37.12h-2 M367.2 29.74h2 M615.5 29.74h-2 M367.2 22.36h2 M615.5 22.36h-2 M367.2 14.98h2 M615.5 14.98h-2 M367.2 7.6h3 M615.5 7.6h-3" stroke="#444" stroke-width="1" fill="none"/>
<path d="M367.2 107.41 L377.55 104.46 L387.89 101.51 L398.24 98.56 L408.58 96.9 L418.93 95.98 L429.27 94.31 L439.62 94.87 L449.97 96.9 L460.31 99.85 L470.66 102.8 L481 107.41 L491.35 112.95 L501.7 116.82 L512.04 121.44 L522.39 125.5 L532.73 128.45 L543.08 129 L553.42 126.23 L563.77 124.76 L574.12 128.08 L584.46 135.27 L594.81 143.02 L605.15 148.19 L615.5 151.14" fill="none" stroke="#3a3ae0" stroke-width="1.1" stroke-linejoin="round"/>
<circle cx="367.2" cy="107.41" r="2.5" fill="#0000d8"/>
<circle cx="377.55" cy="104.46" r="2.5" fill="#0000d8"/>
<circle cx="387.89" cy="101.51" r="2.5" fill="#0000d8"/>
<circle cx="398.24" cy="98.56" r="2.5" fill="#0000d8"/>
<circle cx="408.58" cy="96.9" r="2.5" fill="#0000d8"/>
<circle cx="418.93" cy="95.98" r="2.5" fill="#0000d8"/>
<circle cx="429.27" cy="94.31" r="2.5" fill="#0000d8"/>
<circle cx="439.62" cy="94.87" r="2.5" fill="#0000d8"/>
<circle cx="449.97" cy="96.9" r="2.5" fill="#0000d8"/>
<circle cx="460.31" cy="99.85" r="2.5" fill="#0000d8"/>
<circle cx="470.66" cy="102.8" r="2.5" fill="#0000d8"/>
<circle cx="481" cy="107.41" r="2.5" fill="#0000d8"/>
<circle cx="491.35" cy="112.95" r="2.5" fill="#0000d8"/>
<circle cx="501.7" cy="116.82" r="2.5" fill="#0000d8"/>
<circle cx="512.04" cy="121.44" r="2.5" fill="#0000d8"/>
<circle cx="522.39" cy="125.5" r="2.5" fill="#0000d8"/>
<circle cx="532.73" cy="128.45" r="2.5" fill="#0000d8"/>
<circle cx="543.08" cy="129" r="2.5" fill="#0000d8"/>
<circle cx="553.42" cy="126.23" r="2.5" fill="#0000d8"/>
<circle cx="563.77" cy="124.76" r="2.5" fill="#0000d8"/>
<circle cx="574.12" cy="128.08" r="2.5" fill="#0000d8"/>
<circle cx="584.46" cy="135.27" r="2.5" fill="#0000d8"/>
<circle cx="594.81" cy="143.02" r="2.5" fill="#0000d8"/>
<circle cx="605.15" cy="148.19" r="2.5" fill="#0000d8"/>
<circle cx="615.5" cy="151.14" r="2.5" fill="#0000d8"/>
<path d="M367.2 61.47 L377.55 58.52 L387.89 54.65 L398.24 49.11 L408.58 43.76 L418.93 40.26 L429.27 35.64 L439.62 38.97 L449.97 42.84 L460.31 47.08 L470.66 51.88 L481 60.55 L491.35 73.84 L501.7 82.69 L512.04 92.84 L522.39 103.72 L532.73 118.3 L543.08 130.48 L553.42 134.54 L563.77 136.93 L574.12 142.47 L584.46 145.05 L594.81 148.19 L605.15 150.96 L615.5 153.72" fill="none" stroke="#ff1010" stroke-width="1.7" stroke-linejoin="round"/>
<path d="M367.2 57.99L370.7 63.79L363.7 63.79Z" fill="#ff0000"/>
<path d="M377.55 55.04L381.05 60.84L374.05 60.84Z" fill="#ff0000"/>
<path d="M387.89 51.17L391.39 56.97L384.39 56.97Z" fill="#ff0000"/>
<path d="M398.24 45.63L401.74 51.43L394.74 51.43Z" fill="#ff0000"/>
<path d="M408.58 40.28L412.08 46.08L405.08 46.08Z" fill="#ff0000"/>
<path d="M418.93 36.78L422.43 42.58L415.43 42.58Z" fill="#ff0000"/>
<path d="M429.27 32.16L432.77 37.96L425.77 37.96Z" fill="#ff0000"/>
<path d="M439.62 35.49L443.12 41.29L436.12 41.29Z" fill="#ff0000"/>
<path d="M449.97 39.36L453.47 45.16L446.47 45.16Z" fill="#ff0000"/>
<path d="M460.31 43.6L463.81 49.4L456.81 49.4Z" fill="#ff0000"/>
<path d="M470.66 48.4L474.16 54.2L467.16 54.2Z" fill="#ff0000"/>
<path d="M481 57.07L484.5 62.87L477.5 62.87Z" fill="#ff0000"/>
<path d="M491.35 70.36L494.85 76.16L487.85 76.16Z" fill="#ff0000"/>
<path d="M501.7 79.21L505.2 85.01L498.2 85.01Z" fill="#ff0000"/>
<path d="M512.04 89.36L515.54 95.16L508.54 95.16Z" fill="#ff0000"/>
<path d="M522.39 100.24L525.89 106.04L518.89 106.04Z" fill="#ff0000"/>
<path d="M532.73 114.82L536.23 120.62L529.23 120.62Z" fill="#ff0000"/>
<path d="M543.08 127L546.58 132.8L539.58 132.8Z" fill="#ff0000"/>
<path d="M553.42 131.06L556.92 136.86L549.92 136.86Z" fill="#ff0000"/>
<path d="M563.77 133.45L567.27 139.25L560.27 139.25Z" fill="#ff0000"/>
<path d="M574.12 138.99L577.62 144.79L570.62 144.79Z" fill="#ff0000"/>
<path d="M584.46 141.57L587.96 147.37L580.96 147.37Z" fill="#ff0000"/>
<path d="M594.81 144.71L598.31 150.51L591.31 150.51Z" fill="#ff0000"/>
<path d="M605.15 147.48L608.65 153.28L601.65 153.28Z" fill="#ff0000"/>
<path d="M615.5 150.24L619 156.04L612 156.04Z" fill="#ff0000"/>
<path d="M367.2 147.64 L377.55 150.59 L387.89 155.57 L398.24 154.65 L408.58 152.99 L418.93 153.35 L429.27 152.25 L439.62 151.69 L449.97 152.25 L460.31 149.48 L470.66 144.5 L481 146.34 L491.35 150.03 L501.7 147.82 L512.04 146.34 L522.39 145.42 L532.73 147.45 L543.08 160.73 L553.42 168.11 L563.77 167.38 L574.12 166.09 L584.46 162.21 L594.81 160.92 L605.15 158.89 L615.5 158.52" fill="none" stroke="#0a7a0a" stroke-width="1.4" stroke-linejoin="round"/>
<path d="M367.2 144.84V150.44M366.2 144.84h2M366.2 150.44h2" stroke="#006e00" stroke-width="0.8" fill="none"/>
<rect x="364.7" y="145.14" width="5" height="5" fill="#006e00"/>
<path d="M377.55 147.79V153.39M376.55 147.79h2M376.55 153.39h2" stroke="#006e00" stroke-width="0.8" fill="none"/>
<rect x="375.05" y="148.09" width="5" height="5" fill="#006e00"/>
<path d="M387.89 152.77V158.37M386.89 152.77h2M386.89 158.37h2" stroke="#006e00" stroke-width="0.8" fill="none"/>
<rect x="385.39" y="153.07" width="5" height="5" fill="#006e00"/>
<path d="M398.24 151.85V157.45M397.24 151.85h2M397.24 157.45h2" stroke="#006e00" stroke-width="0.8" fill="none"/>
<rect x="395.74" y="152.15" width="5" height="5" fill="#006e00"/>
<path d="M408.58 150.19V155.79M407.58 150.19h2M407.58 155.79h2" stroke="#006e00" stroke-width="0.8" fill="none"/>
<rect x="406.08" y="150.49" width="5" height="5" fill="#006e00"/>
<path d="M418.93 150.55V156.16M417.93 150.55h2M417.93 156.16h2" stroke="#006e00" stroke-width="0.8" fill="none"/>
<rect x="416.43" y="150.85" width="5" height="5" fill="#006e00"/>
<path d="M429.27 149.45V155.05M428.27 149.45h2M428.27 155.05h2" stroke="#006e00" stroke-width="0.8" fill="none"/>
<rect x="426.77" y="149.75" width="5" height="5" fill="#006e00"/>
<path d="M439.62 148.89V154.49M438.62 148.89h2M438.62 154.49h2" stroke="#006e00" stroke-width="0.8" fill="none"/>
<rect x="437.12" y="149.19" width="5" height="5" fill="#006e00"/>
<path d="M449.97 149.45V155.05M448.97 149.45h2M448.97 155.05h2" stroke="#006e00" stroke-width="0.8" fill="none"/>
<rect x="447.47" y="149.75" width="5" height="5" fill="#006e00"/>
<path d="M460.31 146.68V152.28M459.31 146.68h2M459.31 152.28h2" stroke="#006e00" stroke-width="0.8" fill="none"/>
<rect x="457.81" y="146.98" width="5" height="5" fill="#006e00"/>
<path d="M470.66 141.7V147.3M469.66 141.7h2M469.66 147.3h2" stroke="#006e00" stroke-width="0.8" fill="none"/>
<rect x="468.16" y="142" width="5" height="5" fill="#006e00"/>
<path d="M481 143.54V149.14M480 143.54h2M480 149.14h2" stroke="#006e00" stroke-width="0.8" fill="none"/>
<rect x="478.5" y="143.84" width="5" height="5" fill="#006e00"/>
<path d="M491.35 147.23V152.83M490.35 147.23h2M490.35 152.83h2" stroke="#006e00" stroke-width="0.8" fill="none"/>
<rect x="488.85" y="147.53" width="5" height="5" fill="#006e00"/>
<path d="M501.7 145.02V150.62M500.7 145.02h2M500.7 150.62h2" stroke="#006e00" stroke-width="0.8" fill="none"/>
<rect x="499.2" y="145.32" width="5" height="5" fill="#006e00"/>
<path d="M512.04 143.54V149.14M511.04 143.54h2M511.04 149.14h2" stroke="#006e00" stroke-width="0.8" fill="none"/>
<rect x="509.54" y="143.84" width="5" height="5" fill="#006e00"/>
<path d="M522.39 142.62V148.22M521.39 142.62h2M521.39 148.22h2" stroke="#006e00" stroke-width="0.8" fill="none"/>
<rect x="519.89" y="142.92" width="5" height="5" fill="#006e00"/>
<path d="M532.73 144.65V150.25M531.73 144.65h2M531.73 150.25h2" stroke="#006e00" stroke-width="0.8" fill="none"/>
<rect x="530.23" y="144.95" width="5" height="5" fill="#006e00"/>
<path d="M543.08 157.93V163.53M542.08 157.93h2M542.08 163.53h2" stroke="#006e00" stroke-width="0.8" fill="none"/>
<rect x="540.58" y="158.23" width="5" height="5" fill="#006e00"/>
<path d="M553.42 165.31V170.91M552.42 165.31h2M552.42 170.91h2" stroke="#006e00" stroke-width="0.8" fill="none"/>
<rect x="550.92" y="165.61" width="5" height="5" fill="#006e00"/>
<path d="M563.77 164.58V170.18M562.77 164.58h2M562.77 170.18h2" stroke="#006e00" stroke-width="0.8" fill="none"/>
<rect x="561.27" y="164.88" width="5" height="5" fill="#006e00"/>
<path d="M574.12 163.29V168.89M573.12 163.29h2M573.12 168.89h2" stroke="#006e00" stroke-width="0.8" fill="none"/>
<rect x="571.62" y="163.59" width="5" height="5" fill="#006e00"/>
<path d="M584.46 159.41V165.01M583.46 159.41h2M583.46 165.01h2" stroke="#006e00" stroke-width="0.8" fill="none"/>
<rect x="581.96" y="159.71" width="5" height="5" fill="#006e00"/>
<path d="M594.81 158.12V163.72M593.81 158.12h2M593.81 163.72h2" stroke="#006e00" stroke-width="0.8" fill="none"/>
<rect x="592.31" y="158.42" width="5" height="5" fill="#006e00"/>
<path d="M605.15 156.09V161.69M604.15 156.09h2M604.15 161.69h2" stroke="#006e00" stroke-width="0.8" fill="none"/>
<rect x="602.65" y="156.39" width="5" height="5" fill="#006e00"/>
<path d="M615.5 155.72V161.32M614.5 155.72h2M614.5 161.32h2" stroke="#006e00" stroke-width="0.8" fill="none"/>
<rect x="613" y="156.02" width="5" height="5" fill="#006e00"/>
<path d="M367.2 153.35 L377.55 154.65 L387.89 162.76 L398.24 163.69 L408.58 161.1 L418.93 162.4 L429.27 162.4 L439.62 160.73 L449.97 164.42 L460.31 165.35 L470.66 161.1 L481 158.52 L491.35 155.57 L501.7 157.78 L512.04 161.47 L522.39 162.4 L532.73 162.95 L543.08 166.09 L553.42 164.79 L563.77 160 L574.12 157.97 L584.46 157.23 L594.81 155.38 L605.15 154.65 L615.5 155.38" fill="none" stroke="#e888dc" stroke-width="1.0" stroke-linejoin="round" stroke-dasharray="2.5 2.5"/>
<path d="M367.2 149.35V157.35M366.2 149.35h2M366.2 157.35h2" stroke="#c838b8" stroke-width="0.8" fill="none"/>
<path d="M364.3 151.44L370.1 151.44L367.2 156.23Z" fill="#c838b8"/>
<path d="M377.55 150.65V158.65M376.55 150.65h2M376.55 158.65h2" stroke="#c838b8" stroke-width="0.8" fill="none"/>
<path d="M374.65 152.73L380.45 152.73L377.55 157.53Z" fill="#c838b8"/>
<path d="M387.89 158.76V166.76M386.89 158.76h2M386.89 166.76h2" stroke="#c838b8" stroke-width="0.8" fill="none"/>
<path d="M384.99 160.84L390.79 160.84L387.89 165.64Z" fill="#c838b8"/>
<path d="M398.24 159.69V167.69M397.24 159.69h2M397.24 167.69h2" stroke="#c838b8" stroke-width="0.8" fill="none"/>
<path d="M395.34 161.77L401.14 161.77L398.24 166.57Z" fill="#c838b8"/>
<path d="M408.58 157.1V165.1M407.58 157.1h2M407.58 165.1h2" stroke="#c838b8" stroke-width="0.8" fill="none"/>
<path d="M405.68 159.18L411.48 159.18L408.58 163.98Z" fill="#c838b8"/>
<path d="M418.93 158.4V166.4M417.93 158.4h2M417.93 166.4h2" stroke="#c838b8" stroke-width="0.8" fill="none"/>
<path d="M416.03 160.48L421.83 160.48L418.93 165.28Z" fill="#c838b8"/>
<path d="M429.27 158.4V166.4M428.27 158.4h2M428.27 166.4h2" stroke="#c838b8" stroke-width="0.8" fill="none"/>
<path d="M426.38 160.48L432.17 160.48L429.27 165.28Z" fill="#c838b8"/>
<path d="M439.62 156.73V164.73M438.62 156.73h2M438.62 164.73h2" stroke="#c838b8" stroke-width="0.8" fill="none"/>
<path d="M436.72 158.81L442.52 158.81L439.62 163.61Z" fill="#c838b8"/>
<path d="M449.97 160.42V168.42M448.97 160.42h2M448.97 168.42h2" stroke="#c838b8" stroke-width="0.8" fill="none"/>
<path d="M447.07 162.5L452.87 162.5L449.97 167.3Z" fill="#c838b8"/>
<path d="M460.31 161.35V169.35M459.31 161.35h2M459.31 169.35h2" stroke="#c838b8" stroke-width="0.8" fill="none"/>
<path d="M457.41 163.43L463.21 163.43L460.31 168.23Z" fill="#c838b8"/>
<path d="M470.66 157.1V165.1M469.66 157.1h2M469.66 165.1h2" stroke="#c838b8" stroke-width="0.8" fill="none"/>
<path d="M467.76 159.18L473.56 159.18L470.66 163.98Z" fill="#c838b8"/>
<path d="M481 154.52V162.52M480 154.52h2M480 162.52h2" stroke="#c838b8" stroke-width="0.8" fill="none"/>
<path d="M478.1 156.6L483.9 156.6L481 161.4Z" fill="#c838b8"/>
<path d="M491.35 151.57V159.57M490.35 151.57h2M490.35 159.57h2" stroke="#c838b8" stroke-width="0.8" fill="none"/>
<path d="M488.45 153.65L494.25 153.65L491.35 158.45Z" fill="#c838b8"/>
<path d="M501.7 153.78V161.78M500.7 153.78h2M500.7 161.78h2" stroke="#c838b8" stroke-width="0.8" fill="none"/>
<path d="M498.8 155.86L504.6 155.86L501.7 160.66Z" fill="#c838b8"/>
<path d="M512.04 157.47V165.47M511.04 157.47h2M511.04 165.47h2" stroke="#c838b8" stroke-width="0.8" fill="none"/>
<path d="M509.14 159.55L514.94 159.55L512.04 164.35Z" fill="#c838b8"/>
<path d="M522.39 158.4V166.4M521.39 158.4h2M521.39 166.4h2" stroke="#c838b8" stroke-width="0.8" fill="none"/>
<path d="M519.49 160.48L525.29 160.48L522.39 165.28Z" fill="#c838b8"/>
<path d="M532.73 158.95V166.95M531.73 158.95h2M531.73 166.95h2" stroke="#c838b8" stroke-width="0.8" fill="none"/>
<path d="M529.83 161.03L535.63 161.03L532.73 165.83Z" fill="#c838b8"/>
<path d="M543.08 162.09V170.09M542.08 162.09h2M542.08 170.09h2" stroke="#c838b8" stroke-width="0.8" fill="none"/>
<path d="M540.18 164.17L545.98 164.17L543.08 168.97Z" fill="#c838b8"/>
<path d="M553.42 160.79V168.79M552.42 160.79h2M552.42 168.79h2" stroke="#c838b8" stroke-width="0.8" fill="none"/>
<path d="M550.52 162.87L556.32 162.87L553.42 167.67Z" fill="#c838b8"/>
<path d="M563.77 156V164M562.77 156h2M562.77 164h2" stroke="#c838b8" stroke-width="0.8" fill="none"/>
<path d="M560.87 158.08L566.67 158.08L563.77 162.88Z" fill="#c838b8"/>
<path d="M574.12 153.97V161.97M573.12 153.97h2M573.12 161.97h2" stroke="#c838b8" stroke-width="0.8" fill="none"/>
<path d="M571.22 156.05L577.02 156.05L574.12 160.85Z" fill="#c838b8"/>
<path d="M584.46 153.23V161.23M583.46 153.23h2M583.46 161.23h2" stroke="#c838b8" stroke-width="0.8" fill="none"/>
<path d="M581.56 155.31L587.36 155.31L584.46 160.11Z" fill="#c838b8"/>
<path d="M594.81 151.38V159.38M593.81 151.38h2M593.81 159.38h2" stroke="#c838b8" stroke-width="0.8" fill="none"/>
<path d="M591.91 153.46L597.71 153.46L594.81 158.26Z" fill="#c838b8"/>
<path d="M605.15 150.65V158.65M604.15 150.65h2M604.15 158.65h2" stroke="#c838b8" stroke-width="0.8" fill="none"/>
<path d="M602.25 152.73L608.05 152.73L605.15 157.53Z" fill="#c838b8"/>
<path d="M615.5 151.38V159.38M614.5 151.38h2M614.5 159.38h2" stroke="#c838b8" stroke-width="0.8" fill="none"/>
<path d="M612.6 153.46L618.4 153.46L615.5 158.26Z" fill="#c838b8"/>
<text x="367" y="210.3" text-anchor="middle" class="tx">2</text>
<text x="408.38" y="210.3" text-anchor="middle" class="tx">3</text>
<text x="449.77" y="210.3" text-anchor="middle" class="tx">4</text>
<text x="491.15" y="210.3" text-anchor="middle" class="tx">5</text>
<text x="532.53" y="210.3" text-anchor="middle" class="tx">6</text>
<text x="573.92" y="210.3" text-anchor="middle" class="tx">7</text>
<text x="615.3" y="210.3" text-anchor="middle" class="tx">8</text>
<text x="359.3" y="194.5" text-anchor="end" class="tl">-2</text>
<text x="359.3" y="157.6" text-anchor="end" class="tl">0</text>
<text x="359.3" y="120.7" text-anchor="end" class="tl">2</text>
<text x="359.3" y="83.8" text-anchor="end" class="tl">4</text>
<text x="359.3" y="46.9" text-anchor="end" class="tl">6</text>
<text x="359.3" y="10" text-anchor="end" class="tl">8</text>
<line x1="565.7" y1="25.5" x2="585.2" y2="25.5" stroke="#3a3ae0" stroke-width="1.0"/>
<circle cx="575.6" cy="25.5" r="2.25" fill="#0000d8"/>
<text x="587.3" y="30.2" class="lg" fill="#3434e0">D<tspan class="ls" dy="5.4" dx="-0.3">0</tspan></text>
<line x1="565.7" y1="45.1" x2="585.2" y2="45.1" stroke="#ff1010" stroke-width="1.5"/>
<path d="M575.6 42.14L578.58 47.07L572.62 47.07Z" fill="#ff0000"/>
<text x="587.3" y="49.8" class="lg" fill="#ff2a2a">D<tspan class="ls" dy="5.4" dx="-0.3">2</tspan></text>
<line x1="565.7" y1="64.6" x2="585.2" y2="64.6" stroke="#0a7a0a" stroke-width="1.1" stroke-dasharray="2.2 1.6"/>
<rect x="573.23" y="62.22" width="4.75" height="4.75" fill="#006e00"/>
<text x="587.3" y="69.3" class="lg" fill="#1a8a1a">D<tspan class="ls" dy="5.4" dx="-0.3">4</tspan></text>
<line x1="565.7" y1="84.2" x2="585.2" y2="84.2" stroke="#e888dc" stroke-width="1.0" stroke-dasharray="2.2 1.8"/>
<path d="M572.99 82.47L578.21 82.47L575.6 86.79Z" fill="#c838b8"/>
<text x="587.3" y="88.9" class="lg" fill="#d455c4">D<tspan class="ls" dy="5.4" dx="-0.3">6</tspan></text>
<text x="376.1" y="182.2" class="pl">(c)</text>
<text x="461.8" y="230.4" class="al">E<tspan class="as" dy="3.6">D+</tspan><tspan dy="-3.6" dx="5.6">(eV)</tspan></text>
<text transform="translate(334.6 121.2) rotate(-90)" class="yl">D<tspan class="ys" dy="4.0">L’(0°)</tspan></text>
<line x1="407.77" y1="244.91" x2="407.77" y2="428.69" stroke="#8a8a8a" stroke-width="1" stroke-dasharray="1 1.4"/>
<line x1="449.13" y1="244.91" x2="449.13" y2="428.69" stroke="#8a8a8a" stroke-width="1" stroke-dasharray="1 1.4"/>
<line x1="490.5" y1="244.91" x2="490.5" y2="428.69" stroke="#8a8a8a" stroke-width="1" stroke-dasharray="1 1.4"/>
<line x1="531.87" y1="244.91" x2="531.87" y2="428.69" stroke="#8a8a8a" stroke-width="1" stroke-dasharray="1 1.4"/>
<line x1="573.23" y1="244.91" x2="573.23" y2="428.69" stroke="#8a8a8a" stroke-width="1" stroke-dasharray="1 1.4"/>
<line x1="366.4" y1="290.86" x2="614.6" y2="290.86" stroke="#8a8a8a" stroke-width="1" stroke-dasharray="1 1.4"/>
<line x1="366.4" y1="382.75" x2="614.6" y2="382.75" stroke="#8a8a8a" stroke-width="1" stroke-dasharray="1 1.4"/>
<rect x="367.5" y="247" width="246" height="26" fill="#fff"/>
<line x1="366.4" y1="336.8" x2="614.6" y2="336.8" stroke="#333" stroke-width="1.6" stroke-dasharray="5.5 1.6 0.8 1.6"/>
<rect x="366.4" y="244.91" width="248.2" height="183.78" fill="none" stroke="#888" stroke-width="1.6"/>
<path d="M366.4 428.69v-3 M366.4 244.91v3 M374.67 428.69v-2 M374.67 244.91v2 M382.95 428.69v-2 M382.95 244.91v2 M391.22 428.69v-2 M391.22 244.91v2 M399.49 428.69v-2 M399.49 244.91v2 M407.77 428.69v-3 M407.77 244.91v3 M416.04 428.69v-2 M416.04 244.91v2 M424.31 428.69v-2 M424.31 244.91v2 M432.59 428.69v-2 M432.59 244.91v2 M440.86 428.69v-2 M440.86 244.91v2 M449.13 428.69v-3 M449.13 244.91v3 M457.41 428.69v-2 M457.41 244.91v2 M465.68 428.69v-2 M465.68 244.91v2 M473.95 428.69v-2 M473.95 244.91v2 M482.23 428.69v-2 M482.23 244.91v2 M490.5 428.69v-3 M490.5 244.91v3 M498.77 428.69v-2 M498.77 244.91v2 M507.05 428.69v-2 M507.05 244.91v2 M515.32 428.69v-2 M515.32 244.91v2 M523.59 428.69v-2 M523.59 244.91v2 M531.87 428.69v-3 M531.87 244.91v3 M540.14 428.69v-2 M540.14 244.91v2 M548.41 428.69v-2 M548.41 244.91v2 M556.69 428.69v-2 M556.69 244.91v2 M564.96 428.69v-2 M564.96 244.91v2 M573.23 428.69v-3 M573.23 244.91v3 M581.51 428.69v-2 M581.51 244.91v2 M589.78 428.69v-2 M589.78 244.91v2 M598.05 428.69v-2 M598.05 244.91v2 M606.33 428.69v-2 M606.33 244.91v2 M614.6 428.69v-3 M614.6 244.91v3 M366.4 428.69h3 M614.6 428.69h-3 M366.4 419.5h2 M614.6 419.5h-2 M366.4 410.31h2 M614.6 410.31h-2 M366.4 401.12h2 M614.6 401.12h-2 M366.4 391.93h2 M614.6 391.93h-2 M366.4 382.75h3 M614.6 382.75h-3 M366.4 373.56h2 M614.6 373.56h-2 M366.4 364.37h2 M614.6 364.37h-2 M366.4 355.18h2 M614.6 355.18h-2 M366.4 345.99h2 M614.6 345.99h-2 M366.4 336.8h3 M614.6 336.8h-3 M366.4 327.61h2 M614.6 327.61h-2 M366.4 318.42h2 M614.6 318.42h-2 M366.4 309.23h2 M614.6 309.23h-2 M366.4 300.04h2 M614.6 300.04h-2 M366.4 290.86h3 M614.6 290.86h-3 M366.4 281.67h2 M614.6 281.67h-2 M366.4 272.48h2 M614.6 272.48h-2 M366.4 263.29h2 M614.6 263.29h-2 M366.4 254.1h2 M614.6 254.1h-2 M366.4 244.91h3 M614.6 244.91h-3" stroke="#444" stroke-width="1" fill="none"/>
<path d="M366.4 312.3 L376.74 313.21 L387.08 314.13 L397.42 314.75 L407.77 312.91 L418.11 311.38 L428.45 313.52 L438.79 315.67 L449.13 318.73 L459.47 320.57 L469.82 319.95 L480.16 315.36 L490.5 309.23 L500.84 302.19 L511.18 293.92 L521.52 286.57 L531.87 283.2 L542.21 285.04 L552.55 291.77 L562.89 300.66 L573.23 309.54 L583.58 317.81 L593.92 324.55 L604.26 329.76 L614.6 331.9" fill="none" stroke="#3a3ae0" stroke-width="1.1" stroke-linejoin="round"/>
<circle cx="366.4" cy="312.3" r="2.5" fill="#0000d8"/>
<circle cx="376.74" cy="313.21" r="2.5" fill="#0000d8"/>
<circle cx="387.08" cy="314.13" r="2.5" fill="#0000d8"/>
<circle cx="397.42" cy="314.75" r="2.5" fill="#0000d8"/>
<circle cx="407.77" cy="312.91" r="2.5" fill="#0000d8"/>
<circle cx="418.11" cy="311.38" r="2.5" fill="#0000d8"/>
<circle cx="428.45" cy="313.52" r="2.5" fill="#0000d8"/>
<circle cx="438.79" cy="315.67" r="2.5" fill="#0000d8"/>
<circle cx="449.13" cy="318.73" r="2.5" fill="#0000d8"/>
<circle cx="459.47" cy="320.57" r="2.5" fill="#0000d8"/>
<circle cx="469.82" cy="319.95" r="2.5" fill="#0000d8"/>
<circle cx="480.16" cy="315.36" r="2.5" fill="#0000d8"/>
<circle cx="490.5" cy="309.23" r="2.5" fill="#0000d8"/>
<circle cx="500.84" cy="302.19" r="2.5" fill="#0000d8"/>
<circle cx="511.18" cy="293.92" r="2.5" fill="#0000d8"/>
<circle cx="521.52" cy="286.57" r="2.5" fill="#0000d8"/>
<circle cx="531.87" cy="283.2" r="2.5" fill="#0000d8"/>
<circle cx="542.21" cy="285.04" r="2.5" fill="#0000d8"/>
<circle cx="552.55" cy="291.77" r="2.5" fill="#0000d8"/>
<circle cx="562.89" cy="300.66" r="2.5" fill="#0000d8"/>
<circle cx="573.23" cy="309.54" r="2.5" fill="#0000d8"/>
<circle cx="583.58" cy="317.81" r="2.5" fill="#0000d8"/>
<circle cx="593.92" cy="324.55" r="2.5" fill="#0000d8"/>
<circle cx="604.26" cy="329.76" r="2.5" fill="#0000d8"/>
<circle cx="614.6" cy="331.9" r="2.5" fill="#0000d8"/>
<path d="M366.4 337.72 L376.74 330.67 L387.08 325.77 L397.42 322.4 L407.77 319.65 L418.11 317.2 L428.45 317.2 L438.79 318.12 L449.13 321.49 L459.47 326.69 L469.82 328.84 L480.16 326.69 L490.5 322.71 L500.84 319.95 L511.18 315.67 L521.52 311.07 L531.87 308.62 L542.21 307.7 L552.55 310.76 L562.89 318.42 L573.23 323.32 L583.58 327.92 L593.92 333.12 L604.26 334.96 L614.6 335.57" fill="none" stroke="#ff1010" stroke-width="1.7" stroke-linejoin="round"/>
<path d="M366.4 334.24L369.9 340.04L362.9 340.04Z" fill="#ff0000"/>
<path d="M376.74 327.19L380.24 332.99L373.24 332.99Z" fill="#ff0000"/>
<path d="M387.08 322.29L390.58 328.09L383.58 328.09Z" fill="#ff0000"/>
<path d="M397.42 318.92L400.92 324.72L393.92 324.72Z" fill="#ff0000"/>
<path d="M407.77 316.17L411.27 321.97L404.27 321.97Z" fill="#ff0000"/>
<path d="M418.11 313.72L421.61 319.52L414.61 319.52Z" fill="#ff0000"/>
<path d="M428.45 313.72L431.95 319.52L424.95 319.52Z" fill="#ff0000"/>
<path d="M438.79 314.64L442.29 320.44L435.29 320.44Z" fill="#ff0000"/>
<path d="M449.13 318L452.63 323.81L445.63 323.81Z" fill="#ff0000"/>
<path d="M459.47 323.21L462.97 329.01L455.97 329.01Z" fill="#ff0000"/>
<path d="M469.82 325.36L473.32 331.16L466.32 331.16Z" fill="#ff0000"/>
<path d="M480.16 323.21L483.66 329.01L476.66 329.01Z" fill="#ff0000"/>
<path d="M490.5 319.23L494 325.03L487 325.03Z" fill="#ff0000"/>
<path d="M500.84 316.47L504.34 322.27L497.34 322.27Z" fill="#ff0000"/>
<path d="M511.18 312.19L514.68 317.99L507.68 317.99Z" fill="#ff0000"/>
<path d="M521.52 307.59L525.02 313.39L518.02 313.39Z" fill="#ff0000"/>
<path d="M531.87 305.14L535.37 310.94L528.37 310.94Z" fill="#ff0000"/>
<path d="M542.21 304.22L545.71 310.02L538.71 310.02Z" fill="#ff0000"/>
<path d="M552.55 307.28L556.05 313.08L549.05 313.08Z" fill="#ff0000"/>
<path d="M562.89 314.94L566.39 320.74L559.39 320.74Z" fill="#ff0000"/>
<path d="M573.23 319.84L576.73 325.64L569.73 325.64Z" fill="#ff0000"/>
<path d="M583.58 324.44L587.08 330.24L580.08 330.24Z" fill="#ff0000"/>
<path d="M593.92 329.64L597.42 335.44L590.42 335.44Z" fill="#ff0000"/>
<path d="M604.26 331.48L607.76 337.28L600.76 337.28Z" fill="#ff0000"/>
<path d="M614.6 332.09L618.1 337.89L611.1 337.89Z" fill="#ff0000"/>
<path d="M366.4 354.57 L376.74 356.71 L387.08 357.93 L397.42 359.77 L407.77 360.69 L418.11 358.24 L428.45 352.73 L438.79 348.75 L449.13 347.83 L459.47 351.2 L469.82 357.32 L480.16 365.29 L490.5 374.78 L500.84 385.5 L511.18 395.3 L521.52 402.65 L531.87 405.1 L542.21 396.22 L552.55 384.28 L562.89 375.39 L573.23 366.82 L583.58 355.79 L593.92 347.52 L604.26 341.39 L614.6 338.33" fill="none" stroke="#0a7a0a" stroke-width="1.4" stroke-linejoin="round"/>
<path d="M366.4 351.77V357.37M365.4 351.77h2M365.4 357.37h2" stroke="#006e00" stroke-width="0.8" fill="none"/>
<rect x="363.9" y="352.07" width="5" height="5" fill="#006e00"/>
<path d="M376.74 353.91V359.51M375.74 353.91h2M375.74 359.51h2" stroke="#006e00" stroke-width="0.8" fill="none"/>
<rect x="374.24" y="354.21" width="5" height="5" fill="#006e00"/>
<path d="M387.08 355.13V360.73M386.08 355.13h2M386.08 360.73h2" stroke="#006e00" stroke-width="0.8" fill="none"/>
<rect x="384.58" y="355.43" width="5" height="5" fill="#006e00"/>
<path d="M397.42 356.97V362.57M396.42 356.97h2M396.42 362.57h2" stroke="#006e00" stroke-width="0.8" fill="none"/>
<rect x="394.92" y="357.27" width="5" height="5" fill="#006e00"/>
<path d="M407.77 357.89V363.49M406.77 357.89h2M406.77 363.49h2" stroke="#006e00" stroke-width="0.8" fill="none"/>
<rect x="405.27" y="358.19" width="5" height="5" fill="#006e00"/>
<path d="M418.11 355.44V361.04M417.11 355.44h2M417.11 361.04h2" stroke="#006e00" stroke-width="0.8" fill="none"/>
<rect x="415.61" y="355.74" width="5" height="5" fill="#006e00"/>
<path d="M428.45 349.93V355.53M427.45 349.93h2M427.45 355.53h2" stroke="#006e00" stroke-width="0.8" fill="none"/>
<rect x="425.95" y="350.23" width="5" height="5" fill="#006e00"/>
<path d="M438.79 345.95V351.55M437.79 345.95h2M437.79 351.55h2" stroke="#006e00" stroke-width="0.8" fill="none"/>
<rect x="436.29" y="346.25" width="5" height="5" fill="#006e00"/>
<path d="M449.13 345.03V350.63M448.13 345.03h2M448.13 350.63h2" stroke="#006e00" stroke-width="0.8" fill="none"/>
<rect x="446.63" y="345.33" width="5" height="5" fill="#006e00"/>
<path d="M459.47 348.4V354M458.47 348.4h2M458.47 354h2" stroke="#006e00" stroke-width="0.8" fill="none"/>
<rect x="456.97" y="348.7" width="5" height="5" fill="#006e00"/>
<path d="M469.82 354.52V360.12M468.82 354.52h2M468.82 360.12h2" stroke="#006e00" stroke-width="0.8" fill="none"/>
<rect x="467.32" y="354.82" width="5" height="5" fill="#006e00"/>
<path d="M480.16 362.49V368.09M479.16 362.49h2M479.16 368.09h2" stroke="#006e00" stroke-width="0.8" fill="none"/>
<rect x="477.66" y="362.79" width="5" height="5" fill="#006e00"/>
<path d="M490.5 371.98V377.58M489.5 371.98h2M489.5 377.58h2" stroke="#006e00" stroke-width="0.8" fill="none"/>
<rect x="488" y="372.28" width="5" height="5" fill="#006e00"/>
<path d="M500.84 382.7V388.3M499.84 382.7h2M499.84 388.3h2" stroke="#006e00" stroke-width="0.8" fill="none"/>
<rect x="498.34" y="383" width="5" height="5" fill="#006e00"/>
<path d="M511.18 392.5V398.1M510.18 392.5h2M510.18 398.1h2" stroke="#006e00" stroke-width="0.8" fill="none"/>
<rect x="508.68" y="392.8" width="5" height="5" fill="#006e00"/>
<path d="M521.52 399.85V405.45M520.52 399.85h2M520.52 405.45h2" stroke="#006e00" stroke-width="0.8" fill="none"/>
<rect x="519.02" y="400.15" width="5" height="5" fill="#006e00"/>
<path d="M531.87 402.3V407.9M530.87 402.3h2M530.87 407.9h2" stroke="#006e00" stroke-width="0.8" fill="none"/>
<rect x="529.37" y="402.6" width="5" height="5" fill="#006e00"/>
<path d="M542.21 393.42V399.02M541.21 393.42h2M541.21 399.02h2" stroke="#006e00" stroke-width="0.8" fill="none"/>
<rect x="539.71" y="393.72" width="5" height="5" fill="#006e00"/>
<path d="M552.55 381.48V387.08M551.55 381.48h2M551.55 387.08h2" stroke="#006e00" stroke-width="0.8" fill="none"/>
<rect x="550.05" y="381.78" width="5" height="5" fill="#006e00"/>
<path d="M562.89 372.59V378.19M561.89 372.59h2M561.89 378.19h2" stroke="#006e00" stroke-width="0.8" fill="none"/>
<rect x="560.39" y="372.89" width="5" height="5" fill="#006e00"/>
<path d="M573.23 364.02V369.62M572.23 364.02h2M572.23 369.62h2" stroke="#006e00" stroke-width="0.8" fill="none"/>
<rect x="570.73" y="364.32" width="5" height="5" fill="#006e00"/>
<path d="M583.58 352.99V358.59M582.58 352.99h2M582.58 358.59h2" stroke="#006e00" stroke-width="0.8" fill="none"/>
<rect x="581.08" y="353.29" width="5" height="5" fill="#006e00"/>
<path d="M593.92 344.72V350.32M592.92 344.72h2M592.92 350.32h2" stroke="#006e00" stroke-width="0.8" fill="none"/>
<rect x="591.42" y="345.02" width="5" height="5" fill="#006e00"/>
<path d="M604.26 338.59V344.19M603.26 338.59h2M603.26 344.19h2" stroke="#006e00" stroke-width="0.8" fill="none"/>
<rect x="601.76" y="338.89" width="5" height="5" fill="#006e00"/>
<path d="M614.6 335.53V341.13M613.6 335.53h2M613.6 341.13h2" stroke="#006e00" stroke-width="0.8" fill="none"/>
<rect x="612.1" y="335.83" width="5" height="5" fill="#006e00"/>
<path d="M366.4 339.25 L376.74 341.09 L387.08 340.48 L397.42 343.84 L407.77 345.99 L418.11 344.46 L428.45 344.46 L438.79 342.93 L449.13 340.48 L459.47 337.11 L469.82 334.66 L480.16 331.59 L490.5 332.51 L500.84 331.9 L511.18 326.69 L521.52 322.1 L531.87 319.03 L542.21 316.28 L552.55 319.34 L562.89 324.55 L573.23 328.22 L583.58 330.98 L593.92 334.35 L604.26 335.88 L614.6 335.57" fill="none" stroke="#e888dc" stroke-width="1.0" stroke-linejoin="round" stroke-dasharray="2.5 2.5"/>
<path d="M366.4 335.25V343.25M365.4 335.25h2M365.4 343.25h2" stroke="#c838b8" stroke-width="0.8" fill="none"/>
<path d="M363.5 337.33L369.3 337.33L366.4 342.13Z" fill="#c838b8"/>
<path d="M376.74 337.09V345.09M375.74 337.09h2M375.74 345.09h2" stroke="#c838b8" stroke-width="0.8" fill="none"/>
<path d="M373.84 339.17L379.64 339.17L376.74 343.97Z" fill="#c838b8"/>
<path d="M387.08 336.48V344.48M386.08 336.48h2M386.08 344.48h2" stroke="#c838b8" stroke-width="0.8" fill="none"/>
<path d="M384.18 338.56L389.98 338.56L387.08 343.36Z" fill="#c838b8"/>
<path d="M397.42 339.84V347.84M396.42 339.84h2M396.42 347.84h2" stroke="#c838b8" stroke-width="0.8" fill="none"/>
<path d="M394.52 341.92L400.32 341.92L397.42 346.72Z" fill="#c838b8"/>
<path d="M407.77 341.99V349.99M406.77 341.99h2M406.77 349.99h2" stroke="#c838b8" stroke-width="0.8" fill="none"/>
<path d="M404.87 344.07L410.67 344.07L407.77 348.87Z" fill="#c838b8"/>
<path d="M418.11 340.46V348.46M417.11 340.46h2M417.11 348.46h2" stroke="#c838b8" stroke-width="0.8" fill="none"/>
<path d="M415.21 342.54L421.01 342.54L418.11 347.34Z" fill="#c838b8"/>
<path d="M428.45 340.46V348.46M427.45 340.46h2M427.45 348.46h2" stroke="#c838b8" stroke-width="0.8" fill="none"/>
<path d="M425.55 342.54L431.35 342.54L428.45 347.34Z" fill="#c838b8"/>
<path d="M438.79 338.93V346.93M437.79 338.93h2M437.79 346.93h2" stroke="#c838b8" stroke-width="0.8" fill="none"/>
<path d="M435.89 341.01L441.69 341.01L438.79 345.81Z" fill="#c838b8"/>
<path d="M449.13 336.48V344.48M448.13 336.48h2M448.13 344.48h2" stroke="#c838b8" stroke-width="0.8" fill="none"/>
<path d="M446.23 338.56L452.03 338.56L449.13 343.36Z" fill="#c838b8"/>
<path d="M459.47 333.11V341.11M458.47 333.11h2M458.47 341.11h2" stroke="#c838b8" stroke-width="0.8" fill="none"/>
<path d="M456.57 335.19L462.37 335.19L459.47 339.99Z" fill="#c838b8"/>
<path d="M469.82 330.66V338.66M468.82 330.66h2M468.82 338.66h2" stroke="#c838b8" stroke-width="0.8" fill="none"/>
<path d="M466.92 332.74L472.72 332.74L469.82 337.54Z" fill="#c838b8"/>
<path d="M480.16 327.59V335.59M479.16 327.59h2M479.16 335.59h2" stroke="#c838b8" stroke-width="0.8" fill="none"/>
<path d="M477.26 329.67L483.06 329.67L480.16 334.47Z" fill="#c838b8"/>
<path d="M490.5 328.51V336.51M489.5 328.51h2M489.5 336.51h2" stroke="#c838b8" stroke-width="0.8" fill="none"/>
<path d="M487.6 330.59L493.4 330.59L490.5 335.39Z" fill="#c838b8"/>
<path d="M500.84 327.9V335.9M499.84 327.9h2M499.84 335.9h2" stroke="#c838b8" stroke-width="0.8" fill="none"/>
<path d="M497.94 329.98L503.74 329.98L500.84 334.78Z" fill="#c838b8"/>
<path d="M511.18 322.69V330.69M510.18 322.69h2M510.18 330.69h2" stroke="#c838b8" stroke-width="0.8" fill="none"/>
<path d="M508.28 324.77L514.08 324.77L511.18 329.57Z" fill="#c838b8"/>
<path d="M521.52 318.1V326.1M520.52 318.1h2M520.52 326.1h2" stroke="#c838b8" stroke-width="0.8" fill="none"/>
<path d="M518.62 320.18L524.42 320.18L521.52 324.98Z" fill="#c838b8"/>
<path d="M531.87 315.03V323.03M530.87 315.03h2M530.87 323.03h2" stroke="#c838b8" stroke-width="0.8" fill="none"/>
<path d="M528.97 317.11L534.77 317.11L531.87 321.91Z" fill="#c838b8"/>
<path d="M542.21 312.28V320.28M541.21 312.28h2M541.21 320.28h2" stroke="#c838b8" stroke-width="0.8" fill="none"/>
<path d="M539.31 314.36L545.11 314.36L542.21 319.16Z" fill="#c838b8"/>
<path d="M552.55 315.34V323.34M551.55 315.34h2M551.55 323.34h2" stroke="#c838b8" stroke-width="0.8" fill="none"/>
<path d="M549.65 317.42L555.45 317.42L552.55 322.22Z" fill="#c838b8"/>
<path d="M562.89 320.55V328.55M561.89 320.55h2M561.89 328.55h2" stroke="#c838b8" stroke-width="0.8" fill="none"/>
<path d="M559.99 322.63L565.79 322.63L562.89 327.43Z" fill="#c838b8"/>
<path d="M573.23 324.22V332.22M572.23 324.22h2M572.23 332.22h2" stroke="#c838b8" stroke-width="0.8" fill="none"/>
<path d="M570.33 326.3L576.13 326.3L573.23 331.1Z" fill="#c838b8"/>
<path d="M583.58 326.98V334.98M582.58 326.98h2M582.58 334.98h2" stroke="#c838b8" stroke-width="0.8" fill="none"/>
<path d="M580.68 329.06L586.48 329.06L583.58 333.86Z" fill="#c838b8"/>
<path d="M593.92 330.35V338.35M592.92 330.35h2M592.92 338.35h2" stroke="#c838b8" stroke-width="0.8" fill="none"/>
<path d="M591.02 332.43L596.82 332.43L593.92 337.23Z" fill="#c838b8"/>
<path d="M604.26 331.88V339.88M603.26 331.88h2M603.26 339.88h2" stroke="#c838b8" stroke-width="0.8" fill="none"/>
<path d="M601.36 333.96L607.16 333.96L604.26 338.76Z" fill="#c838b8"/>
<path d="M614.6 331.57V339.57M613.6 331.57h2M613.6 339.57h2" stroke="#c838b8" stroke-width="0.8" fill="none"/>
<path d="M611.7 333.65L617.5 333.65L614.6 338.45Z" fill="#c838b8"/>
<text x="366.2" y="446.9" text-anchor="middle" class="tx">2</text>
<text x="407.57" y="446.9" text-anchor="middle" class="tx">3</text>
<text x="448.93" y="446.9" text-anchor="middle" class="tx">4</text>
<text x="490.3" y="446.9" text-anchor="middle" class="tx">5</text>
<text x="531.67" y="446.9" text-anchor="middle" class="tx">6</text>
<text x="573.03" y="446.9" text-anchor="middle" class="tx">7</text>
<text x="614.4" y="446.9" text-anchor="middle" class="tx">8</text>
<text x="360.2" y="427.09" text-anchor="end" class="tl">-3</text>
<text x="360.2" y="381.14" text-anchor="end" class="tl">-1,5</text>
<text x="360.2" y="335.2" text-anchor="end" class="tl">0</text>
<text x="360.2" y="289.25" text-anchor="end" class="tl">1,5</text>
<text x="360.2" y="243.31" text-anchor="end" class="tl">3</text>
<line x1="390.6" y1="257.7" x2="410.1" y2="257.7" stroke="#3a3ae0" stroke-width="1.0"/>
<circle cx="400.5" cy="257.7" r="2.25" fill="#0000d8"/>
<text x="412.2" y="262.4" class="lg" fill="#3434e0">D<tspan class="ls" dy="5.4" dx="-0.3">0</tspan></text>
<line x1="444.2" y1="257.7" x2="463.7" y2="257.7" stroke="#ff1010" stroke-width="1.5"/>
<path d="M454.1 254.74L457.07 259.67L451.12 259.67Z" fill="#ff0000"/>
<text x="465.8" y="262.4" class="lg" fill="#ff2a2a">D<tspan class="ls" dy="5.4" dx="-0.3">2</tspan></text>
<line x1="497.5" y1="257.7" x2="517" y2="257.7" stroke="#0a7a0a" stroke-width="1.1" stroke-dasharray="2.2 1.6"/>
<rect x="505.02" y="255.32" width="4.75" height="4.75" fill="#006e00"/>
<text x="519.1" y="262.4" class="lg" fill="#1a8a1a">D<tspan class="ls" dy="5.4" dx="-0.3">4</tspan></text>
<line x1="551.9" y1="257.7" x2="571.4" y2="257.7" stroke="#e888dc" stroke-width="1.0" stroke-dasharray="2.2 1.8"/>
<path d="M559.19 255.97L564.41 255.97L561.8 260.29Z" fill="#c838b8"/>
<text x="573.5" y="262.4" class="lg" fill="#d455c4">D<tspan class="ls" dy="5.4" dx="-0.3">6</tspan></text>
<text x="377" y="415.8" class="pl">(d)</text>
<text x="454.6" y="468.6" class="al">E<tspan class="as" dy="3.6">D+</tspan><tspan dy="-3.6" dx="5.6">(eV)</tspan></text>
<text transform="translate(330.7 357.8) rotate(-90)" class="yl">D<tspan class="ys" dy="4.0">L’(90°)</tspan></text>
</svg>
</body></html>
